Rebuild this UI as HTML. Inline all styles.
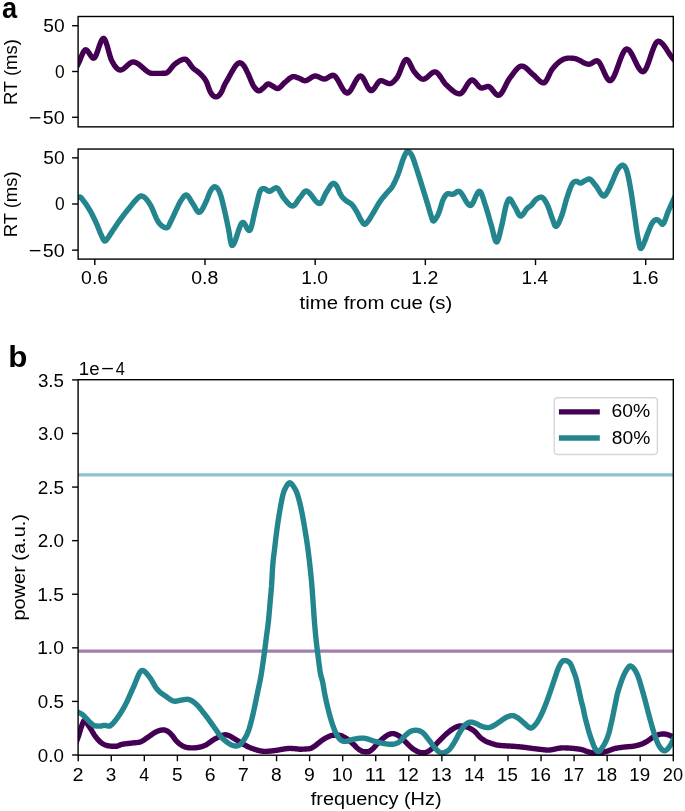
<!DOCTYPE html><html><head><meta charset="utf-8"><title>figure</title>
<style>html,body{margin:0;padding:0;background:#fff;}svg{display:block;}text{font-family:"Liberation Sans",sans-serif;fill:#000;}svg{will-change:transform;filter:blur(0.3px);}</style></head><body>
<svg width="685" height="811" viewBox="0 0 685 811">
<rect width="685" height="811" fill="#fff"/>
<defs>
<clipPath id="ca1"><rect x="78.10" y="16.50" width="595.20" height="110.35"/></clipPath>
<clipPath id="ca2"><rect x="78.10" y="149.05" width="595.20" height="110.05"/></clipPath>
<clipPath id="cb"><rect x="78.10" y="379.70" width="595.20" height="375.50"/></clipPath>
</defs>
<g fill="none" stroke-linecap="round" stroke-linejoin="round">
<path clip-path="url(#ca1)" d="M74.00,72.00L74.50,71.03L75.00,70.07L75.50,69.10L76.00,68.13L76.50,67.17L77.00,66.20L77.50,65.24L78.00,64.28L78.50,63.31L79.00,62.23L79.50,61.08L80.00,59.87L80.50,58.62L81.00,57.37L81.50,56.14L82.00,54.94L82.50,53.81L83.00,52.78L83.50,51.86L84.00,51.08L84.50,50.46L85.00,50.03L85.50,49.82L86.00,49.84L86.50,50.04L87.00,50.41L87.50,50.91L88.00,51.52L88.50,52.22L89.00,52.97L89.50,53.76L90.00,54.56L90.50,55.33L91.00,56.07L91.50,56.73L92.00,57.31L92.50,57.76L93.00,58.06L93.50,58.20L94.00,58.11L94.50,57.74L95.00,57.12L95.50,56.29L96.00,55.27L96.50,54.10L97.00,52.80L97.50,51.40L98.00,49.94L98.50,48.45L99.00,46.95L99.50,45.48L100.00,44.07L100.50,42.75L101.00,41.55L101.50,40.50L102.00,39.63L102.50,38.97L103.00,38.55L103.50,38.40L104.00,38.58L104.50,39.09L105.00,39.89L105.50,40.95L106.00,42.23L106.50,43.69L107.00,45.30L107.50,47.02L108.00,48.80L108.50,50.62L109.00,52.44L109.50,54.22L110.00,55.91L110.50,57.50L111.00,58.93L111.50,60.17L112.00,61.19L112.50,62.10L113.00,62.99L113.50,63.83L114.00,64.63L114.50,65.38L115.00,66.09L115.50,66.75L116.00,67.36L116.50,67.91L117.00,68.40L117.50,68.84L118.00,69.21L118.50,69.51L119.00,69.74L119.50,69.90L120.00,69.99L120.50,69.99L121.00,69.93L121.50,69.81L122.00,69.62L122.50,69.38L123.00,69.10L123.50,68.77L124.00,68.40L124.50,68.01L125.00,67.59L125.50,67.15L126.00,66.69L126.50,66.23L127.00,65.77L127.50,65.31L128.00,64.85L128.50,64.41L129.00,63.99L129.50,63.60L130.00,63.23L130.50,62.90L131.00,62.62L131.50,62.38L132.00,62.19L132.50,62.07L133.00,62.01L133.50,62.01L134.00,62.06L134.50,62.15L135.00,62.28L135.50,62.45L136.00,62.66L136.50,62.89L137.00,63.16L137.50,63.46L138.00,63.78L138.50,64.13L139.00,64.49L139.50,64.88L140.00,65.28L140.50,65.69L141.00,66.12L141.50,66.55L142.00,66.99L142.50,67.43L143.00,67.88L143.50,68.32L144.00,68.76L144.50,69.20L145.00,69.63L145.50,70.04L146.00,70.44L146.50,70.83L147.00,71.20L147.50,71.55L148.00,71.88L148.50,72.18L149.00,72.45L149.50,72.70L150.00,72.91L150.50,73.09L151.00,73.23L151.50,73.33L152.00,73.39L152.50,73.40L153.00,73.40L153.50,73.40L154.00,73.40L154.50,73.40L155.00,73.40L155.50,73.40L156.00,73.40L156.50,73.39L157.00,73.39L157.50,73.39L158.00,73.38L158.50,73.38L159.00,73.37L159.50,73.37L160.00,73.36L160.50,73.35L161.00,73.34L161.50,73.33L162.00,73.32L162.50,73.31L163.00,73.29L163.50,73.28L164.00,73.26L164.50,73.24L165.00,73.22L165.50,73.20L166.00,73.12L166.50,72.95L167.00,72.68L167.50,72.33L168.00,71.92L168.50,71.44L169.00,70.91L169.50,70.33L170.00,69.73L170.50,69.10L171.00,68.46L171.50,67.81L172.00,67.17L172.50,66.55L173.00,65.95L173.50,65.38L174.00,64.87L174.50,64.40L175.00,64.00L175.50,63.63L176.00,63.27L176.50,62.91L177.00,62.56L177.50,62.21L178.00,61.88L178.50,61.55L179.00,61.24L179.50,60.95L180.00,60.67L180.50,60.41L181.00,60.17L181.50,59.95L182.00,59.75L182.50,59.59L183.00,59.45L183.50,59.34L184.00,59.26L184.50,59.21L185.00,59.20L185.50,59.30L186.00,59.52L186.50,59.85L187.00,60.28L187.50,60.79L188.00,61.38L188.50,62.02L189.00,62.70L189.50,63.41L190.00,64.13L190.50,64.86L191.00,65.57L191.50,66.25L192.00,66.89L192.50,67.48L193.00,68.00L193.50,68.46L194.00,68.89L194.50,69.30L195.00,69.69L195.50,70.06L196.00,70.42L196.50,70.78L197.00,71.13L197.50,71.49L198.00,71.86L198.50,72.25L199.00,72.65L199.50,73.08L200.00,73.54L200.50,74.04L201.00,74.57L201.50,75.14L202.00,75.69L202.50,76.23L203.00,76.77L203.50,77.34L204.00,77.94L204.50,78.59L205.00,79.31L205.50,80.11L206.00,81.00L206.50,82.00L207.00,83.17L207.50,84.50L208.00,85.93L208.50,87.38L209.00,88.79L209.50,90.08L210.00,91.20L210.50,92.16L211.00,93.02L211.50,93.80L212.00,94.49L212.50,95.09L213.00,95.60L213.50,96.01L214.00,96.33L214.50,96.56L215.00,96.70L215.50,96.78L216.00,96.80L216.50,96.76L217.00,96.65L217.50,96.47L218.00,96.21L218.50,95.86L219.00,95.41L219.50,94.87L220.00,94.24L220.50,93.53L221.00,92.73L221.50,91.87L222.00,90.91L222.50,89.80L223.00,88.59L223.50,87.35L224.00,86.14L224.50,85.01L225.00,84.00L225.50,83.07L226.00,82.19L226.50,81.34L227.00,80.51L227.50,79.67L228.00,78.80L228.50,77.90L229.00,76.99L229.50,76.07L230.00,75.15L230.50,74.23L231.00,73.32L231.50,72.43L232.00,71.55L232.50,70.70L233.00,69.87L233.50,69.04L234.00,68.20L234.50,67.39L235.00,66.62L235.50,65.92L236.00,65.30L236.50,64.75L237.00,64.25L237.50,63.80L238.00,63.42L238.50,63.12L239.00,62.91L239.50,62.81L240.00,62.82L240.50,62.93L241.00,63.12L241.50,63.41L242.00,63.78L242.50,64.22L243.00,64.73L243.50,65.30L244.00,65.96L244.50,66.73L245.00,67.59L245.50,68.53L246.00,69.51L246.50,70.53L247.00,71.56L247.50,72.59L248.00,73.60L248.50,74.66L249.00,75.79L249.50,76.98L250.00,78.19L250.50,79.42L251.00,80.63L251.50,81.82L252.00,82.96L252.50,84.03L253.00,85.01L253.50,85.89L254.00,86.65L254.50,87.36L255.00,88.03L255.50,88.65L256.00,89.21L256.50,89.69L257.00,90.11L257.50,90.45L258.00,90.69L258.50,90.85L259.00,90.90L259.50,90.83L260.00,90.63L260.50,90.33L261.00,89.96L261.50,89.54L262.00,89.11L262.50,88.69L263.00,88.30L263.50,87.90L264.00,87.42L264.50,86.91L265.00,86.37L265.50,85.83L266.00,85.32L266.50,84.86L267.00,84.48L267.50,84.19L268.00,84.03L268.50,84.01L269.00,84.10L269.50,84.28L270.00,84.52L270.50,84.81L271.00,85.12L271.50,85.43L272.00,85.73L272.50,86.00L273.00,86.26L273.50,86.56L274.00,86.88L274.50,87.21L275.00,87.53L275.50,87.82L276.00,88.08L276.50,88.29L277.00,88.43L277.50,88.50L278.00,88.46L278.50,88.32L279.00,88.08L279.50,87.76L280.00,87.36L280.50,86.91L281.00,86.42L281.50,85.88L282.00,85.33L282.50,84.77L283.00,84.22L283.50,83.68L284.00,83.18L284.50,82.71L285.00,82.30L285.50,81.91L286.00,81.50L286.50,81.07L287.00,80.63L287.50,80.18L288.00,79.74L288.50,79.30L289.00,78.88L289.50,78.48L290.00,78.10L290.50,77.75L291.00,77.43L291.50,77.16L292.00,76.94L292.50,76.76L293.00,76.65L293.50,76.60L294.00,76.62L294.50,76.67L295.00,76.77L295.50,76.90L296.00,77.06L296.50,77.23L297.00,77.42L297.50,77.62L298.00,77.82L298.50,78.01L299.00,78.20L299.50,78.40L300.00,78.64L300.50,78.90L301.00,79.18L301.50,79.46L302.00,79.74L302.50,80.00L303.00,80.24L303.50,80.44L304.00,80.58L304.50,80.68L305.00,80.70L305.50,80.65L306.00,80.55L306.50,80.40L307.00,80.20L307.50,79.97L308.00,79.70L308.50,79.40L309.00,79.08L309.50,78.75L310.00,78.42L310.50,78.08L311.00,77.75L311.50,77.42L312.00,77.12L312.50,76.84L313.00,76.59L313.50,76.37L314.00,76.20L314.50,76.08L315.00,76.01L315.50,76.00L316.00,76.05L316.50,76.14L317.00,76.27L317.50,76.44L318.00,76.64L318.50,76.85L319.00,77.08L319.50,77.33L320.00,77.57L320.50,77.82L321.00,78.06L321.50,78.28L322.00,78.48L322.50,78.66L323.00,78.81L323.50,78.92L324.00,78.98L324.50,79.00L325.00,78.95L325.50,78.83L326.00,78.66L326.50,78.45L327.00,78.19L327.50,77.90L328.00,77.60L328.50,77.28L329.00,76.96L329.50,76.64L330.00,76.34L330.50,76.06L331.00,75.81L331.50,75.60L332.00,75.44L332.50,75.34L333.00,75.30L333.50,75.36L334.00,75.55L334.50,75.85L335.00,76.25L335.50,76.75L336.00,77.34L336.50,78.00L337.00,78.72L337.50,79.51L338.00,80.34L338.50,81.21L339.00,82.11L339.50,83.03L340.00,83.96L340.50,84.90L341.00,85.82L341.50,86.73L342.00,87.62L342.50,88.47L343.00,89.27L343.50,90.02L344.00,90.71L344.50,91.32L345.00,91.86L345.50,92.30L346.00,92.64L346.50,92.88L347.00,92.99L347.50,92.97L348.00,92.82L348.50,92.54L349.00,92.15L349.50,91.65L350.00,91.06L350.50,90.38L351.00,89.63L351.50,88.82L352.00,87.96L352.50,87.05L353.00,86.12L353.50,85.17L354.00,84.21L354.50,83.26L355.00,82.32L355.50,81.40L356.00,80.52L356.50,79.69L357.00,78.91L357.50,78.20L358.00,77.58L358.50,77.04L359.00,76.60L359.50,76.27L360.00,76.07L360.50,76.00L361.00,76.09L361.50,76.36L362.00,76.78L362.50,77.34L363.00,78.02L363.50,78.80L364.00,79.66L364.50,80.60L365.00,81.57L365.50,82.58L366.00,83.61L366.50,84.62L367.00,85.62L367.50,86.57L368.00,87.46L368.50,88.28L369.00,89.00L369.50,89.61L370.00,90.09L370.50,90.42L371.00,90.58L371.50,90.57L372.00,90.41L372.50,90.10L373.00,89.69L373.50,89.17L374.00,88.56L374.50,87.89L375.00,87.17L375.50,86.42L376.00,85.65L376.50,84.88L377.00,84.13L377.50,83.41L378.00,82.74L378.50,82.13L379.00,81.61L379.50,81.20L380.00,80.89L380.50,80.73L381.00,80.70L381.50,80.75L382.00,80.85L382.50,80.98L383.00,81.15L383.50,81.35L384.00,81.57L384.50,81.81L385.00,82.05L385.50,82.30L386.00,82.54L386.50,82.77L387.00,82.99L387.50,83.18L388.00,83.35L388.50,83.48L389.00,83.56L389.50,83.60L390.00,83.58L390.50,83.48L391.00,83.32L391.50,83.10L392.00,82.81L392.50,82.47L393.00,82.09L393.50,81.65L394.00,81.17L394.50,80.66L395.00,80.11L395.50,79.53L396.00,78.93L396.50,78.31L397.00,77.67L397.50,76.91L398.00,76.01L398.50,74.99L399.00,73.87L399.50,72.67L400.00,71.42L400.50,70.12L401.00,68.81L401.50,67.51L402.00,66.23L402.50,65.01L403.00,63.85L403.50,62.78L404.00,61.83L404.50,61.01L405.00,60.35L405.50,59.86L406.00,59.57L406.50,59.50L407.00,59.65L407.50,59.98L408.00,60.48L408.50,61.12L409.00,61.89L409.50,62.75L410.00,63.70L410.50,64.70L411.00,65.73L411.50,66.77L412.00,67.80L412.50,68.80L413.00,69.74L413.50,70.61L414.00,71.37L414.50,72.02L415.00,72.63L415.50,73.23L416.00,73.83L416.50,74.42L417.00,74.99L417.50,75.55L418.00,76.08L418.50,76.59L419.00,77.06L419.50,77.50L420.00,77.90L420.50,78.25L421.00,78.56L421.50,78.81L422.00,79.00L422.50,79.13L423.00,79.19L423.50,79.19L424.00,79.10L424.50,78.95L425.00,78.73L425.50,78.46L426.00,78.15L426.50,77.79L427.00,77.39L427.50,76.97L428.00,76.52L428.50,76.06L429.00,75.60L429.50,75.13L430.00,74.67L430.50,74.22L431.00,73.79L431.50,73.39L432.00,73.02L432.50,72.70L433.00,72.42L433.50,72.19L434.00,72.02L434.50,71.93L435.00,71.90L435.50,71.98L436.00,72.15L436.50,72.41L437.00,72.76L437.50,73.18L438.00,73.67L438.50,74.22L439.00,74.83L439.50,75.47L440.00,76.16L440.50,76.88L441.00,77.62L441.50,78.38L442.00,79.14L442.50,79.90L443.00,80.66L443.50,81.40L444.00,82.12L444.50,82.81L445.00,83.46L445.50,84.06L446.00,84.61L446.50,85.10L447.00,85.56L447.50,86.02L448.00,86.49L448.50,86.95L449.00,87.42L449.50,87.88L450.00,88.34L450.50,88.79L451.00,89.23L451.50,89.66L452.00,90.08L452.50,90.49L453.00,90.88L453.50,91.26L454.00,91.61L454.50,91.95L455.00,92.26L455.50,92.55L456.00,92.81L456.50,93.05L457.00,93.26L457.50,93.43L458.00,93.58L458.50,93.69L459.00,93.76L459.50,93.80L460.00,93.78L460.50,93.64L461.00,93.38L461.50,93.01L462.00,92.55L462.50,92.01L463.00,91.39L463.50,90.71L464.00,89.97L464.50,89.20L465.00,88.39L465.50,87.57L466.00,86.73L466.50,85.90L467.00,85.08L467.50,84.29L468.00,83.53L468.50,82.81L469.00,82.16L469.50,81.57L470.00,81.05L470.50,80.63L471.00,80.31L471.50,80.09L472.00,80.00L472.50,80.04L473.00,80.20L473.50,80.47L474.00,80.83L474.50,81.27L475.00,81.78L475.50,82.34L476.00,82.94L476.50,83.56L477.00,84.19L477.50,84.82L478.00,85.42L478.50,86.00L479.00,86.53L479.50,87.00L480.00,87.40L480.50,87.70L481.00,87.91L481.50,88.00L482.00,87.98L482.50,87.92L483.00,87.82L483.50,87.69L484.00,87.54L484.50,87.37L485.00,87.20L485.50,87.03L486.00,86.87L486.50,86.73L487.00,86.61L487.50,86.54L488.00,86.50L488.50,86.54L489.00,86.69L489.50,86.94L490.00,87.29L490.50,87.71L491.00,88.20L491.50,88.74L492.00,89.33L492.50,89.95L493.00,90.58L493.50,91.22L494.00,91.85L494.50,92.47L495.00,93.06L495.50,93.60L496.00,94.09L496.50,94.51L497.00,94.86L497.50,95.11L498.00,95.26L498.50,95.30L499.00,95.20L499.50,94.98L500.00,94.63L500.50,94.18L501.00,93.62L501.50,92.98L502.00,92.26L502.50,91.46L503.00,90.61L503.50,89.70L504.00,88.76L504.50,87.78L505.00,86.78L505.50,85.77L506.00,84.76L506.50,83.76L507.00,82.78L507.50,81.82L508.00,80.90L508.50,80.03L509.00,79.22L509.50,78.47L510.00,77.80L510.50,77.16L511.00,76.51L511.50,75.84L512.00,75.17L512.50,74.49L513.00,73.80L513.50,73.13L514.00,72.46L514.50,71.80L515.00,71.16L515.50,70.54L516.00,69.94L516.50,69.37L517.00,68.83L517.50,68.33L518.00,67.87L518.50,67.45L519.00,67.08L519.50,66.76L520.00,66.50L520.50,66.31L521.00,66.17L521.50,66.11L522.00,66.11L522.50,66.18L523.00,66.30L523.50,66.48L524.00,66.71L524.50,66.98L525.00,67.29L525.50,67.64L526.00,68.02L526.50,68.43L527.00,68.87L527.50,69.33L528.00,69.80L528.50,70.29L529.00,70.78L529.50,71.29L530.00,71.79L530.50,72.28L531.00,72.77L531.50,73.25L532.00,73.72L532.50,74.16L533.00,74.58L533.50,74.98L534.00,75.39L534.50,75.83L535.00,76.30L535.50,76.80L536.00,77.30L536.50,77.82L537.00,78.35L537.50,78.87L538.00,79.38L538.50,79.88L539.00,80.36L539.50,80.82L540.00,81.25L540.50,81.64L541.00,81.99L541.50,82.29L542.00,82.53L542.50,82.72L543.00,82.85L543.50,82.90L544.00,82.84L544.50,82.60L545.00,82.19L545.50,81.64L546.00,80.97L546.50,80.18L547.00,79.30L547.50,78.35L548.00,77.35L548.50,76.31L549.00,75.25L549.50,74.19L550.00,73.15L550.50,72.15L551.00,71.20L551.50,70.33L552.00,69.55L552.50,68.87L553.00,68.25L553.50,67.64L554.00,67.05L554.50,66.47L555.00,65.91L555.50,65.37L556.00,64.85L556.50,64.34L557.00,63.85L557.50,63.38L558.00,62.93L558.50,62.49L559.00,62.08L559.50,61.69L560.00,61.31L560.50,60.96L561.00,60.62L561.50,60.31L562.00,60.02L562.50,59.75L563.00,59.50L563.50,59.28L564.00,59.08L564.50,58.90L565.00,58.75L565.50,58.61L566.00,58.49L566.50,58.39L567.00,58.30L567.50,58.24L568.00,58.18L568.50,58.14L569.00,58.12L569.50,58.10L570.00,58.10L570.50,58.11L571.00,58.13L571.50,58.15L572.00,58.19L572.50,58.24L573.00,58.30L573.50,58.36L574.00,58.43L574.50,58.51L575.00,58.60L575.50,58.70L576.00,58.84L576.50,59.00L577.00,59.18L577.50,59.38L578.00,59.60L578.50,59.84L579.00,60.09L579.50,60.35L580.00,60.62L580.50,60.90L581.00,61.18L581.50,61.46L582.00,61.74L582.50,62.02L583.00,62.29L583.50,62.55L584.00,62.80L584.50,63.04L585.00,63.27L585.50,63.47L586.00,63.66L586.50,63.82L587.00,63.96L587.50,64.06L588.00,64.14L588.50,64.19L589.00,64.20L589.50,64.15L590.00,64.02L590.50,63.85L591.00,63.62L591.50,63.36L592.00,63.06L592.50,62.75L593.00,62.44L593.50,62.12L594.00,61.82L594.50,61.53L595.00,61.28L595.50,61.08L596.00,60.92L596.50,60.82L597.00,60.80L597.50,60.92L598.00,61.20L598.50,61.62L599.00,62.17L599.50,62.84L600.00,63.62L600.50,64.48L601.00,65.43L601.50,66.44L602.00,67.50L602.50,68.60L603.00,69.73L603.50,70.86L604.00,72.00L604.50,73.12L605.00,74.22L605.50,75.27L606.00,76.27L606.50,77.20L607.00,78.05L607.50,78.80L608.00,79.45L608.50,79.98L609.00,80.37L609.50,80.62L610.00,80.70L610.50,80.62L611.00,80.38L611.50,79.99L612.00,79.46L612.50,78.80L613.00,78.03L613.50,77.15L614.00,76.16L614.50,75.10L615.00,73.95L615.50,72.73L616.00,71.46L616.50,70.14L617.00,68.78L617.50,67.39L618.00,65.98L618.50,64.57L619.00,63.15L619.50,61.75L620.00,60.38L620.50,59.03L621.00,57.73L621.50,56.47L622.00,55.28L622.50,54.17L623.00,53.13L623.50,52.19L624.00,51.35L624.50,50.62L625.00,50.01L625.50,49.54L626.00,49.21L626.50,49.03L627.00,49.01L627.50,49.13L628.00,49.36L628.50,49.71L629.00,50.16L629.50,50.70L630.00,51.33L630.50,52.05L631.00,52.83L631.50,53.67L632.00,54.57L632.50,55.52L633.00,56.51L633.50,57.52L634.00,58.56L634.50,59.61L635.00,60.67L635.50,61.72L636.00,62.77L636.50,63.79L637.00,64.79L637.50,65.75L638.00,66.67L638.50,67.54L639.00,68.35L639.50,69.09L640.00,69.76L640.50,70.34L641.00,70.83L641.50,71.21L642.00,71.50L642.50,71.66L643.00,71.70L643.50,71.56L644.00,71.25L644.50,70.77L645.00,70.14L645.50,69.36L646.00,68.46L646.50,67.44L647.00,66.32L647.50,65.11L648.00,63.82L648.50,62.46L649.00,61.06L649.50,59.61L650.00,58.14L650.50,56.65L651.00,55.16L651.50,53.68L652.00,52.23L652.50,50.81L653.00,49.45L653.50,48.14L654.00,46.91L654.50,45.77L655.00,44.73L655.50,43.81L656.00,43.00L656.50,42.34L657.00,41.83L657.50,41.49L658.00,41.32L658.50,41.31L659.00,41.40L659.50,41.57L660.00,41.80L660.50,42.10L661.00,42.47L661.50,42.89L662.00,43.37L662.50,43.89L663.00,44.46L663.50,45.07L664.00,45.72L664.50,46.40L665.00,47.11L665.50,47.84L666.00,48.59L666.50,49.35L667.00,50.13L667.50,50.91L668.00,51.69L668.50,52.47L669.00,53.24L669.50,54.00L670.00,54.74L670.50,55.46L671.00,56.16L671.50,56.83L672.00,57.46L672.50,58.06L673.00,58.62L673.50,59.17L674.00,59.71L674.50,60.25L675.00,60.79L675.50,61.32L676.00,61.86L676.50,62.39L677.00,62.93L677.50,63.46L678.00,64.00" stroke="#440154" stroke-width="5.40"/>
<path clip-path="url(#ca2)" d="M74.00,199.50L74.50,199.27L75.00,199.01L75.50,198.73L76.00,198.44L76.50,198.16L77.00,197.88L77.50,197.63L78.00,197.41L78.50,197.22L79.00,197.09L79.50,197.01L80.00,197.02L80.50,197.21L81.00,197.59L81.50,198.10L82.00,198.72L82.50,199.41L83.00,200.13L83.50,200.84L84.00,201.50L84.50,202.14L85.00,202.79L85.50,203.47L86.00,204.17L86.50,204.89L87.00,205.64L87.50,206.40L88.00,207.18L88.50,207.99L89.00,208.81L89.50,209.66L90.00,210.52L90.50,211.41L91.00,212.32L91.50,213.25L92.00,214.21L92.50,215.18L93.00,216.18L93.50,217.19L94.00,218.22L94.50,219.27L95.00,220.34L95.50,221.43L96.00,222.53L96.50,223.65L97.00,224.79L97.50,226.00L98.00,227.25L98.50,228.53L99.00,229.81L99.50,231.07L100.00,232.29L100.50,233.44L101.00,234.50L101.50,235.56L102.00,236.68L102.50,237.79L103.00,238.84L103.50,239.74L104.00,240.44L104.50,240.88L105.00,240.99L105.50,240.81L106.00,240.41L106.50,239.84L107.00,239.16L107.50,238.43L108.00,237.69L108.50,237.00L109.00,236.33L109.50,235.61L110.00,234.86L110.50,234.09L111.00,233.30L111.50,232.50L112.00,231.70L112.50,230.92L113.00,230.15L113.50,229.40L114.00,228.66L114.50,227.92L115.00,227.18L115.50,226.44L116.00,225.71L116.50,224.98L117.00,224.25L117.50,223.53L118.00,222.81L118.50,222.10L119.00,221.39L119.50,220.69L120.00,219.99L120.50,219.30L121.00,218.61L121.50,217.93L122.00,217.25L122.50,216.59L123.00,215.93L123.50,215.27L124.00,214.62L124.50,213.97L125.00,213.33L125.50,212.69L126.00,212.06L126.50,211.43L127.00,210.80L127.50,210.18L128.00,209.56L128.50,208.94L129.00,208.32L129.50,207.70L130.00,207.08L130.50,206.45L131.00,205.81L131.50,205.18L132.00,204.54L132.50,203.92L133.00,203.30L133.50,202.70L134.00,202.11L134.50,201.55L135.00,201.01L135.50,200.50L136.00,199.99L136.50,199.46L137.00,198.92L137.50,198.39L138.00,197.88L138.50,197.41L139.00,196.98L139.50,196.61L140.00,196.32L140.50,196.11L141.00,196.01L141.50,196.01L142.00,196.09L142.50,196.24L143.00,196.46L143.50,196.73L144.00,197.05L144.50,197.43L145.00,197.85L145.50,198.31L146.00,198.80L146.50,199.34L147.00,199.93L147.50,200.58L148.00,201.27L148.50,202.00L149.00,202.77L149.50,203.57L150.00,204.39L150.50,205.23L151.00,206.11L151.50,207.08L152.00,208.13L152.50,209.24L153.00,210.40L153.50,211.59L154.00,212.80L154.50,214.01L155.00,215.21L155.50,216.39L156.00,217.53L156.50,218.61L157.00,219.63L157.50,220.56L158.00,221.40L158.50,222.13L159.00,222.82L159.50,223.45L160.00,224.05L160.50,224.59L161.00,225.09L161.50,225.55L162.00,225.96L162.50,226.33L163.00,226.66L163.50,226.94L164.00,227.19L164.50,227.39L165.00,227.55L165.50,227.67L166.00,227.75L166.50,227.79L167.00,227.77L167.50,227.48L168.00,226.91L168.50,226.12L169.00,225.18L169.50,224.14L170.00,223.05L170.50,221.99L171.00,221.00L171.50,220.04L172.00,219.02L172.50,217.96L173.00,216.87L173.50,215.77L174.00,214.66L174.50,213.55L175.00,212.46L175.50,211.41L176.00,210.37L176.50,209.31L177.00,208.24L177.50,207.17L178.00,206.10L178.50,205.06L179.00,204.03L179.50,203.05L180.00,202.11L180.50,201.22L181.00,200.40L181.50,199.66L182.00,198.93L182.50,198.20L183.00,197.50L183.50,196.85L184.00,196.27L184.50,195.77L185.00,195.38L185.50,195.12L186.00,195.00L186.50,195.06L187.00,195.28L187.50,195.66L188.00,196.16L188.50,196.77L189.00,197.48L189.50,198.26L190.00,199.09L190.50,199.95L191.00,200.83L191.50,201.70L192.00,202.54L192.50,203.33L193.00,204.06L193.50,204.77L194.00,205.58L194.50,206.45L195.00,207.35L195.50,208.27L196.00,209.16L196.50,209.99L197.00,210.74L197.50,211.38L198.00,211.87L198.50,212.19L199.00,212.30L199.50,212.21L200.00,211.97L200.50,211.57L201.00,211.05L201.50,210.40L202.00,209.66L202.50,208.82L203.00,207.92L203.50,206.96L204.00,205.95L204.50,204.92L205.00,203.87L205.50,202.83L206.00,201.80L206.50,200.71L207.00,199.51L207.50,198.22L208.00,196.89L208.50,195.55L209.00,194.25L209.50,193.03L210.00,191.91L210.50,190.94L211.00,190.13L211.50,189.38L212.00,188.70L212.50,188.11L213.00,187.61L213.50,187.22L214.00,186.95L214.50,186.81L215.00,186.82L215.50,186.94L216.00,187.16L216.50,187.50L217.00,187.96L217.50,188.54L218.00,189.24L218.50,190.07L219.00,191.02L219.50,192.11L220.00,193.34L220.50,194.72L221.00,196.29L221.50,198.02L222.00,199.88L222.50,201.85L223.00,203.91L223.50,206.03L224.00,208.18L224.50,210.34L225.00,212.51L225.50,214.75L226.00,217.06L226.50,219.42L227.00,221.81L227.50,224.20L228.00,226.58L228.50,228.99L229.00,231.80L229.50,234.90L230.00,238.02L230.50,240.90L231.00,243.28L231.50,244.90L232.00,245.50L232.50,245.36L233.00,244.95L233.50,244.31L234.00,243.45L234.50,242.41L235.00,241.21L235.50,239.88L236.00,238.45L236.50,236.94L237.00,235.38L237.50,233.79L238.00,232.21L238.50,230.65L239.00,229.16L239.50,227.74L240.00,226.44L240.50,225.27L241.00,224.26L241.50,223.45L242.00,222.85L242.50,222.49L243.00,222.41L243.50,222.60L244.00,223.04L244.50,223.68L245.00,224.47L245.50,225.36L246.00,226.31L246.50,227.26L247.00,228.18L247.50,229.02L248.00,229.72L248.50,230.25L249.00,230.55L249.50,230.56L250.00,230.11L250.50,229.20L251.00,227.91L251.50,226.30L252.00,224.41L252.50,222.32L253.00,220.09L253.50,217.77L254.00,215.42L254.50,213.11L255.00,210.89L255.50,208.83L256.00,206.95L256.50,204.95L257.00,202.82L257.50,200.62L258.00,198.44L258.50,196.36L259.00,194.44L259.50,192.76L260.00,191.41L260.50,190.44L261.00,189.76L261.50,189.27L262.00,188.94L262.50,188.74L263.00,188.64L263.50,188.61L264.00,188.60L264.50,188.67L265.00,188.86L265.50,189.14L266.00,189.49L266.50,189.87L267.00,190.26L267.50,190.62L268.00,190.94L268.50,191.17L269.00,191.29L269.50,191.28L270.00,191.18L270.50,190.99L271.00,190.74L271.50,190.44L272.00,190.10L272.50,189.73L273.00,189.37L273.50,189.00L274.00,188.66L274.50,188.36L275.00,188.11L275.50,187.92L276.00,187.82L276.50,187.82L277.00,187.98L277.50,188.32L278.00,188.80L278.50,189.41L279.00,190.12L279.50,190.92L280.00,191.78L280.50,192.68L281.00,193.60L281.50,194.53L282.00,195.43L282.50,196.29L283.00,197.09L283.50,197.80L284.00,198.42L284.50,199.00L285.00,199.60L285.50,200.21L286.00,200.82L286.50,201.42L287.00,202.01L287.50,202.59L288.00,203.14L288.50,203.66L289.00,204.14L289.50,204.58L290.00,204.97L290.50,205.31L291.00,205.59L291.50,205.80L292.00,205.94L292.50,206.00L293.00,205.95L293.50,205.77L294.00,205.46L294.50,205.05L295.00,204.54L295.50,203.95L296.00,203.30L296.50,202.60L297.00,201.86L297.50,201.10L298.00,200.34L298.50,199.59L299.00,198.87L299.50,198.18L300.00,197.55L300.50,196.97L301.00,196.34L301.50,195.66L302.00,194.94L302.50,194.22L303.00,193.51L303.50,192.85L304.00,192.25L304.50,191.74L305.00,191.34L305.50,191.09L306.00,191.00L306.50,191.05L307.00,191.19L307.50,191.42L308.00,191.73L308.50,192.11L309.00,192.56L309.50,193.06L310.00,193.61L310.50,194.20L311.00,194.83L311.50,195.48L312.00,196.15L312.50,196.84L313.00,197.53L313.50,198.21L314.00,198.89L314.50,199.54L315.00,200.18L315.50,200.78L316.00,201.34L316.50,201.85L317.00,202.30L317.50,202.70L318.00,203.02L318.50,203.27L319.00,203.43L319.50,203.50L320.00,203.42L320.50,203.11L321.00,202.60L321.50,201.92L322.00,201.09L322.50,200.14L323.00,199.11L323.50,198.03L324.00,196.92L324.50,195.81L325.00,194.73L325.50,193.72L326.00,192.80L326.50,192.00L327.00,191.25L327.50,190.45L328.00,189.62L328.50,188.79L329.00,187.96L329.50,187.15L330.00,186.38L330.50,185.65L331.00,185.00L331.50,184.43L332.00,183.96L332.50,183.60L333.00,183.38L333.50,183.30L334.00,183.38L334.50,183.60L335.00,183.96L335.50,184.44L336.00,185.03L336.50,185.72L337.00,186.50L337.50,187.44L338.00,188.58L338.50,189.82L339.00,191.09L339.50,192.31L340.00,193.40L340.50,194.33L341.00,195.17L341.50,195.92L342.00,196.59L342.50,197.21L343.00,197.77L343.50,198.29L344.00,198.78L344.50,199.24L345.00,199.69L345.50,200.14L346.00,200.60L346.50,201.03L347.00,201.39L347.50,201.70L348.00,201.97L348.50,202.23L349.00,202.48L349.50,202.74L350.00,203.03L350.50,203.35L351.00,203.73L351.50,204.19L352.00,204.72L352.50,205.31L353.00,205.95L353.50,206.62L354.00,207.34L354.50,208.09L355.00,208.87L355.50,209.68L356.00,210.51L356.50,211.37L357.00,212.25L357.50,213.14L358.00,214.06L358.50,215.06L359.00,216.11L359.50,217.16L360.00,218.19L360.50,219.15L361.00,220.00L361.50,220.80L362.00,221.59L362.50,222.35L363.00,223.02L363.50,223.58L364.00,223.98L364.50,224.18L365.00,224.16L365.50,223.94L366.00,223.57L366.50,223.06L367.00,222.47L367.50,221.82L368.00,221.15L368.50,220.50L369.00,219.84L369.50,219.11L370.00,218.34L370.50,217.53L371.00,216.70L371.50,215.85L372.00,215.00L372.50,214.16L373.00,213.34L373.50,212.51L374.00,211.65L374.50,210.79L375.00,209.91L375.50,209.03L376.00,208.14L376.50,207.26L377.00,206.38L377.50,205.51L378.00,204.66L378.50,203.83L379.00,203.02L379.50,202.24L380.00,201.50L380.50,200.79L381.00,200.10L381.50,199.45L382.00,198.81L382.50,198.18L383.00,197.57L383.50,196.96L384.00,196.36L384.50,195.76L385.00,195.16L385.50,194.55L386.00,193.93L386.50,193.35L387.00,192.80L387.50,192.26L388.00,191.74L388.50,191.22L389.00,190.70L389.50,190.16L390.00,189.60L390.50,189.01L391.00,188.39L391.50,187.71L392.00,186.98L392.50,186.19L393.00,185.32L393.50,184.40L394.00,183.45L394.50,182.45L395.00,181.42L395.50,180.35L396.00,179.24L396.50,178.09L397.00,176.90L397.50,175.68L398.00,174.42L398.50,173.13L399.00,171.78L399.50,170.31L400.00,168.76L400.50,167.14L401.00,165.51L401.50,163.89L402.00,162.33L402.50,160.84L403.00,159.48L403.50,158.27L404.00,157.08L404.50,155.90L405.00,154.76L405.50,153.72L406.00,152.82L406.50,152.12L407.00,151.66L407.50,151.50L408.00,151.55L408.50,151.70L409.00,151.96L409.50,152.32L410.00,152.79L410.50,153.36L411.00,154.04L411.50,154.83L412.00,155.75L412.50,156.85L413.00,158.09L413.50,159.45L414.00,160.89L414.50,162.40L415.00,163.94L415.50,165.49L416.00,167.01L416.50,168.49L417.00,169.99L417.50,171.52L418.00,173.07L418.50,174.65L419.00,176.25L419.50,177.86L420.00,179.47L420.50,181.10L421.00,182.72L421.50,184.34L422.00,185.96L422.50,187.56L423.00,189.16L423.50,190.77L424.00,192.37L424.50,193.98L425.00,195.59L425.50,197.21L426.00,198.83L426.50,200.46L427.00,202.10L427.50,203.74L428.00,205.40L428.50,207.11L429.00,208.87L429.50,210.64L430.00,212.37L430.50,214.01L431.00,215.50L431.50,217.03L432.00,218.61L432.50,219.98L433.00,220.84L433.50,220.98L434.00,220.72L434.50,220.24L435.00,219.62L435.50,218.92L436.00,218.22L436.50,217.45L437.00,216.61L437.50,215.68L438.00,214.68L438.50,213.60L439.00,212.36L439.50,210.92L440.00,209.34L440.50,207.67L441.00,205.96L441.50,204.28L442.00,202.68L442.50,201.22L443.00,199.94L443.50,198.88L444.00,197.89L444.50,196.97L445.00,196.15L445.50,195.42L446.00,194.81L446.50,194.32L447.00,193.96L447.50,193.75L448.00,193.70L448.50,193.73L449.00,193.78L449.50,193.86L450.00,193.95L450.50,194.05L451.00,194.14L451.50,194.22L452.00,194.27L452.50,194.30L453.00,194.26L453.50,194.11L454.00,193.87L454.50,193.57L455.00,193.21L455.50,192.84L456.00,192.46L456.50,192.10L457.00,191.78L457.50,191.53L458.00,191.36L458.50,191.30L459.00,191.37L459.50,191.58L460.00,191.92L460.50,192.37L461.00,192.92L461.50,193.55L462.00,194.26L462.50,195.03L463.00,195.86L463.50,196.71L464.00,197.60L464.50,198.49L465.00,199.38L465.50,200.26L466.00,201.11L466.50,201.92L467.00,202.68L467.50,203.38L468.00,204.00L468.50,204.53L469.00,204.96L469.50,205.27L470.00,205.45L470.50,205.49L471.00,205.32L471.50,204.93L472.00,204.34L472.50,203.58L473.00,202.68L473.50,201.68L474.00,200.59L474.50,199.45L475.00,198.28L475.50,197.12L476.00,195.99L476.50,194.91L477.00,193.93L477.50,193.06L478.00,192.33L478.50,191.78L479.00,191.42L479.50,191.30L480.00,191.47L480.50,191.97L481.00,192.75L481.50,193.77L482.00,194.99L482.50,196.37L483.00,197.87L483.50,199.44L484.00,201.05L484.50,202.65L485.00,204.21L485.50,205.69L486.00,207.19L486.50,208.77L487.00,210.42L487.50,212.11L488.00,213.84L488.50,215.60L489.00,217.37L489.50,219.14L490.00,220.90L490.50,222.63L491.00,224.31L491.50,225.97L492.00,227.81L492.50,229.82L493.00,231.91L493.50,233.99L494.00,236.00L494.50,237.85L495.00,239.45L495.50,240.73L496.00,241.60L496.50,241.99L497.00,241.83L497.50,241.17L498.00,240.09L498.50,238.65L499.00,236.93L499.50,234.99L500.00,232.91L500.50,230.75L501.00,228.59L501.50,226.49L502.00,224.50L502.50,222.32L503.00,219.94L503.50,217.44L504.00,214.90L504.50,212.39L505.00,209.99L505.50,207.77L506.00,205.82L506.50,204.20L507.00,202.81L507.50,201.52L508.00,200.42L508.50,199.57L509.00,199.04L509.50,198.91L510.00,199.08L510.50,199.47L511.00,200.05L511.50,200.77L512.00,201.61L512.50,202.52L513.00,203.47L513.50,204.42L514.00,205.34L514.50,206.19L515.00,206.98L515.50,207.88L516.00,208.88L516.50,209.93L517.00,211.00L517.50,212.06L518.00,213.06L518.50,213.98L519.00,214.76L519.50,215.39L520.00,215.81L520.50,215.99L521.00,215.94L521.50,215.72L522.00,215.36L522.50,214.88L523.00,214.29L523.50,213.63L524.00,212.91L524.50,212.15L525.00,211.38L525.50,210.62L526.00,209.89L526.50,209.21L527.00,208.60L527.50,208.09L528.00,207.67L528.50,207.31L529.00,206.98L529.50,206.65L530.00,206.31L530.50,205.94L531.00,205.50L531.50,204.98L532.00,204.39L532.50,203.74L533.00,203.07L533.50,202.38L534.00,201.71L534.50,201.08L535.00,200.50L535.50,200.00L536.00,199.56L536.50,199.16L537.00,198.78L537.50,198.44L538.00,198.13L538.50,197.87L539.00,197.64L539.50,197.46L540.00,197.33L540.50,197.24L541.00,197.20L541.50,197.24L542.00,197.40L542.50,197.67L543.00,198.05L543.50,198.53L544.00,199.10L544.50,199.76L545.00,200.50L545.50,201.31L546.00,202.20L546.50,203.14L547.00,204.14L547.50,205.19L548.00,206.31L548.50,207.58L549.00,208.95L549.50,210.40L550.00,211.90L550.50,213.41L551.00,214.90L551.50,216.34L552.00,217.69L552.50,218.99L553.00,220.44L553.50,221.96L554.00,223.42L554.50,224.71L555.00,225.71L555.50,226.30L556.00,226.38L556.50,226.17L557.00,225.75L557.50,225.13L558.00,224.35L558.50,223.43L559.00,222.38L559.50,221.24L560.00,220.03L560.50,218.76L561.00,217.46L561.50,216.16L562.00,214.81L562.50,213.31L563.00,211.69L563.50,209.96L564.00,208.17L564.50,206.33L565.00,204.48L565.50,202.64L566.00,200.84L566.50,199.12L567.00,197.50L567.50,196.00L568.00,194.57L568.50,193.12L569.00,191.68L569.50,190.27L570.00,188.91L570.50,187.62L571.00,186.41L571.50,185.30L572.00,184.33L572.50,183.49L573.00,182.82L573.50,182.32L574.00,181.96L574.50,181.71L575.00,181.55L575.50,181.46L576.00,181.41L576.50,181.40L577.00,181.42L577.50,181.57L578.00,181.84L578.50,182.18L579.00,182.53L579.50,182.83L580.00,183.04L580.50,183.10L581.00,183.01L581.50,182.83L582.00,182.57L582.50,182.25L583.00,181.90L583.50,181.54L584.00,181.19L584.50,180.87L585.00,180.60L585.50,180.36L586.00,180.10L586.50,179.84L587.00,179.59L587.50,179.36L588.00,179.18L588.50,179.06L589.00,179.00L589.50,179.04L590.00,179.21L590.50,179.50L591.00,179.88L591.50,180.35L592.00,180.89L592.50,181.48L593.00,182.11L593.50,182.76L594.00,183.42L594.50,184.07L595.00,184.70L595.50,185.29L596.00,185.87L596.50,186.54L597.00,187.28L597.50,188.07L598.00,188.90L598.50,189.74L599.00,190.60L599.50,191.44L600.00,192.26L600.50,193.04L601.00,193.76L601.50,194.40L602.00,194.96L602.50,195.42L603.00,195.75L603.50,195.95L604.00,195.99L604.50,195.83L605.00,195.45L605.50,194.89L606.00,194.20L606.50,193.41L607.00,192.55L607.50,191.67L608.00,190.80L608.50,189.90L609.00,188.91L609.50,187.85L610.00,186.75L610.50,185.61L611.00,184.47L611.50,183.33L612.00,182.22L612.50,181.11L613.00,179.96L613.50,178.77L614.00,177.56L614.50,176.34L615.00,175.14L615.50,173.97L616.00,172.85L616.50,171.79L617.00,170.81L617.50,169.92L618.00,169.15L618.50,168.45L619.00,167.79L619.50,167.18L620.00,166.64L620.50,166.17L621.00,165.78L621.50,165.48L622.00,165.29L622.50,165.20L623.00,165.24L623.50,165.42L624.00,165.74L624.50,166.23L625.00,166.90L625.50,167.75L626.00,168.81L626.50,170.08L627.00,171.58L627.50,173.33L628.00,175.35L628.50,177.61L629.00,180.08L629.50,182.72L630.00,185.49L630.50,188.35L631.00,191.29L631.50,194.40L632.00,197.68L632.50,201.08L633.00,204.55L633.50,208.03L634.00,211.47L634.50,214.86L635.00,218.36L635.50,221.96L636.00,225.55L636.50,229.04L637.00,232.34L637.50,235.36L638.00,238.06L638.50,240.79L639.00,243.43L639.50,245.74L640.00,247.48L640.50,248.41L641.00,248.43L641.50,248.00L642.00,247.28L642.50,246.34L643.00,245.26L643.50,244.12L644.00,243.00L644.50,241.85L645.00,240.56L645.50,239.20L646.00,237.81L646.50,236.43L647.00,235.10L647.50,233.85L648.00,232.59L648.50,231.32L649.00,230.05L649.50,228.80L650.00,227.59L650.50,226.43L651.00,225.33L651.50,224.32L652.00,223.40L652.50,222.58L653.00,221.90L653.50,221.32L654.00,220.81L654.50,220.39L655.00,220.05L655.50,219.80L656.00,219.65L656.50,219.60L657.00,219.67L657.50,219.86L658.00,220.15L658.50,220.50L659.00,220.89L659.50,221.30L660.00,221.81L660.50,222.47L661.00,223.16L661.50,223.77L662.00,224.18L662.50,224.29L663.00,224.04L663.50,223.48L664.00,222.64L664.50,221.58L665.00,220.34L665.50,218.97L666.00,217.53L666.50,216.05L667.00,214.59L667.50,213.19L668.00,211.90L668.50,210.75L669.00,209.64L669.50,208.51L670.00,207.39L670.50,206.26L671.00,205.14L671.50,204.02L672.00,202.91L672.50,201.80L673.00,200.70L673.50,199.61L674.00,198.53L674.50,197.45L675.00,196.39L675.50,195.32L676.00,194.26L676.50,193.19L677.00,192.13L677.50,191.07L678.00,190.00" stroke="#23858e" stroke-width="5.40"/>
<line clip-path="url(#cb)" x1="78.10" x2="673.30" y1="474.8" y2="474.8" stroke="#23858e" stroke-opacity="0.5" stroke-width="3.3"/>
<line clip-path="url(#cb)" x1="78.10" x2="673.30" y1="651.2" y2="651.2" stroke="#440154" stroke-opacity="0.5" stroke-width="3.3"/>
<path clip-path="url(#cb)" d="M72.00,752.00L72.50,750.79L73.00,749.60L73.50,748.44L74.00,747.30L74.50,746.15L75.00,745.01L75.50,743.84L76.00,742.66L76.50,741.44L77.00,740.19L77.50,738.88L78.00,737.52L78.50,736.09L79.00,734.57L79.50,732.93L80.00,731.22L80.50,729.53L81.00,727.93L81.50,726.50L82.00,725.11L82.50,723.68L83.00,722.39L83.50,721.39L84.00,720.85L84.50,720.83L85.00,721.03L85.50,721.39L86.00,721.87L86.50,722.47L87.00,723.15L87.50,723.89L88.00,724.66L88.50,725.45L89.00,726.22L89.50,726.96L90.00,727.68L90.50,728.45L91.00,729.27L91.50,730.12L92.00,730.99L92.50,731.86L93.00,732.73L93.50,733.58L94.00,734.40L94.50,735.18L95.00,735.90L95.50,736.58L96.00,737.24L96.50,737.88L97.00,738.50L97.50,739.09L98.00,739.66L98.50,740.20L99.00,740.72L99.50,741.21L100.00,741.67L100.50,742.11L101.00,742.52L101.50,742.90L102.00,743.26L102.50,743.59L103.00,743.89L103.50,744.17L104.00,744.43L104.50,744.67L105.00,744.88L105.50,745.08L106.00,745.25L106.50,745.40L107.00,745.53L107.50,745.66L108.00,745.76L108.50,745.86L109.00,745.94L109.50,746.01L110.00,746.07L110.50,746.13L111.00,746.17L111.50,746.20L112.00,746.23L112.50,746.25L113.00,746.27L113.50,746.28L114.00,746.29L114.50,746.30L115.00,746.30L115.50,746.30L116.00,746.30L116.50,746.27L117.00,746.17L117.50,746.03L118.00,745.85L118.50,745.65L119.00,745.43L119.50,745.20L120.00,744.99L120.50,744.79L121.00,744.63L121.50,744.49L122.00,744.37L122.50,744.26L123.00,744.16L123.50,744.07L124.00,743.98L124.50,743.90L125.00,743.83L125.50,743.77L126.00,743.70L126.50,743.65L127.00,743.59L127.50,743.54L128.00,743.49L128.50,743.44L129.00,743.39L129.50,743.34L130.00,743.28L130.50,743.23L131.00,743.16L131.50,743.10L132.00,743.03L132.50,742.96L133.00,742.90L133.50,742.84L134.00,742.80L134.50,742.76L135.00,742.73L135.50,742.69L136.00,742.65L136.50,742.61L137.00,742.57L137.50,742.51L138.00,742.44L138.50,742.36L139.00,742.26L139.50,742.14L140.00,742.00L140.50,741.83L141.00,741.64L141.50,741.42L142.00,741.18L142.50,740.90L143.00,740.61L143.50,740.30L144.00,739.97L144.50,739.63L145.00,739.28L145.50,738.92L146.00,738.56L146.50,738.20L147.00,737.84L147.50,737.48L148.00,737.13L148.50,736.80L149.00,736.47L149.50,736.14L150.00,735.79L150.50,735.45L151.00,735.09L151.50,734.74L152.00,734.38L152.50,734.03L153.00,733.69L153.50,733.35L154.00,733.02L154.50,732.71L155.00,732.41L155.50,732.14L156.00,731.88L156.50,731.64L157.00,731.43L157.50,731.22L158.00,731.03L158.50,730.85L159.00,730.67L159.50,730.52L160.00,730.37L160.50,730.25L161.00,730.14L161.50,730.05L162.00,729.98L162.50,729.93L163.00,729.90L163.50,729.90L164.00,729.94L164.50,730.01L165.00,730.12L165.50,730.26L166.00,730.44L166.50,730.65L167.00,730.90L167.50,731.18L168.00,731.50L168.50,731.85L169.00,732.25L169.50,732.68L170.00,733.15L170.50,733.65L171.00,734.17L171.50,734.71L172.00,735.27L172.50,735.85L173.00,736.49L173.50,737.17L174.00,737.87L174.50,738.57L175.00,739.25L175.50,739.90L176.00,740.50L176.50,741.05L177.00,741.57L177.50,742.07L178.00,742.54L178.50,742.98L179.00,743.40L179.50,743.80L180.00,744.18L180.50,744.54L181.00,744.88L181.50,745.21L182.00,745.52L182.50,745.82L183.00,746.09L183.50,746.34L184.00,746.56L184.50,746.76L185.00,746.95L185.50,747.11L186.00,747.25L186.50,747.37L187.00,747.48L187.50,747.57L188.00,747.65L188.50,747.72L189.00,747.77L189.50,747.81L190.00,747.84L190.50,747.87L191.00,747.88L191.50,747.89L192.00,747.90L192.50,747.90L193.00,747.90L193.50,747.89L194.00,747.87L194.50,747.84L195.00,747.81L195.50,747.77L196.00,747.73L196.50,747.67L197.00,747.61L197.50,747.53L198.00,747.45L198.50,747.37L199.00,747.27L199.50,747.16L200.00,747.05L200.50,746.92L201.00,746.79L201.50,746.65L202.00,746.49L202.50,746.33L203.00,746.16L203.50,745.97L204.00,745.78L204.50,745.57L205.00,745.35L205.50,745.10L206.00,744.83L206.50,744.54L207.00,744.24L207.50,743.92L208.00,743.59L208.50,743.26L209.00,742.91L209.50,742.56L210.00,742.21L210.50,741.85L211.00,741.49L211.50,741.14L212.00,740.79L212.50,740.44L213.00,740.11L213.50,739.78L214.00,739.46L214.50,739.16L215.00,738.87L215.50,738.60L216.00,738.35L216.50,738.10L217.00,737.85L217.50,737.59L218.00,737.33L218.50,737.07L219.00,736.81L219.50,736.56L220.00,736.32L220.50,736.09L221.00,735.87L221.50,735.66L222.00,735.47L222.50,735.30L223.00,735.15L223.50,735.03L224.00,734.93L224.50,734.85L225.00,734.81L225.50,734.80L226.00,734.83L226.50,734.89L227.00,734.99L227.50,735.12L228.00,735.27L228.50,735.46L229.00,735.67L229.50,735.90L230.00,736.15L230.50,736.41L231.00,736.69L231.50,736.98L232.00,737.28L232.50,737.59L233.00,737.90L233.50,738.22L234.00,738.53L234.50,738.84L235.00,739.15L235.50,739.45L236.00,739.73L236.50,740.01L237.00,740.29L237.50,740.59L238.00,740.89L238.50,741.20L239.00,741.51L239.50,741.83L240.00,742.15L240.50,742.47L241.00,742.80L241.50,743.12L242.00,743.44L242.50,743.75L243.00,744.06L243.50,744.36L244.00,744.65L244.50,744.93L245.00,745.20L245.50,745.46L246.00,745.72L246.50,745.97L247.00,746.22L247.50,746.46L248.00,746.70L248.50,746.94L249.00,747.16L249.50,747.38L250.00,747.60L250.50,747.81L251.00,748.01L251.50,748.21L252.00,748.40L252.50,748.59L253.00,748.77L253.50,748.94L254.00,749.11L254.50,749.28L255.00,749.44L255.50,749.60L256.00,749.75L256.50,749.90L257.00,750.05L257.50,750.19L258.00,750.33L258.50,750.46L259.00,750.58L259.50,750.70L260.00,750.80L260.50,750.90L261.00,750.99L261.50,751.08L262.00,751.16L262.50,751.24L263.00,751.30L263.50,751.35L264.00,751.38L264.50,751.40L265.00,751.40L265.50,751.39L266.00,751.38L266.50,751.35L267.00,751.33L267.50,751.30L268.00,751.26L268.50,751.22L269.00,751.18L269.50,751.14L270.00,751.10L270.50,751.06L271.00,751.01L271.50,750.96L272.00,750.90L272.50,750.84L273.00,750.78L273.50,750.72L274.00,750.66L274.50,750.59L275.00,750.52L275.50,750.45L276.00,750.37L276.50,750.30L277.00,750.22L277.50,750.15L278.00,750.07L278.50,749.99L279.00,749.90L279.50,749.81L280.00,749.71L280.50,749.61L281.00,749.52L281.50,749.42L282.00,749.33L282.50,749.24L283.00,749.15L283.50,749.07L284.00,749.00L284.50,748.93L285.00,748.86L285.50,748.78L286.00,748.71L286.50,748.64L287.00,748.58L287.50,748.53L288.00,748.48L288.50,748.44L289.00,748.41L289.50,748.40L290.00,748.40L290.50,748.41L291.00,748.43L291.50,748.45L292.00,748.48L292.50,748.51L293.00,748.54L293.50,748.58L294.00,748.62L294.50,748.66L295.00,748.70L295.50,748.74L296.00,748.80L296.50,748.86L297.00,748.92L297.50,748.99L298.00,749.05L298.50,749.10L299.00,749.15L299.50,749.18L300.00,749.20L300.50,749.20L301.00,749.20L301.50,749.19L302.00,749.18L302.50,749.17L303.00,749.15L303.50,749.13L304.00,749.11L304.50,749.08L305.00,749.04L305.50,749.00L306.00,748.96L306.50,748.93L307.00,748.91L307.50,748.88L308.00,748.85L308.50,748.80L309.00,748.73L309.50,748.64L310.00,748.52L310.50,748.37L311.00,748.18L311.50,747.96L312.00,747.71L312.50,747.44L313.00,747.15L313.50,746.85L314.00,746.53L314.50,746.20L315.00,745.86L315.50,745.49L316.00,745.10L316.50,744.70L317.00,744.29L317.50,743.88L318.00,743.47L318.50,743.08L319.00,742.69L319.50,742.29L320.00,741.89L320.50,741.49L321.00,741.10L321.50,740.72L322.00,740.35L322.50,740.00L323.00,739.67L323.50,739.35L324.00,739.05L324.50,738.76L325.00,738.48L325.50,738.21L326.00,737.95L326.50,737.70L327.00,737.45L327.50,737.19L328.00,736.93L328.50,736.68L329.00,736.44L329.50,736.21L330.00,735.99L330.50,735.80L331.00,735.63L331.50,735.49L332.00,735.39L332.50,735.32L333.00,735.30L333.50,735.30L334.00,735.30L334.50,735.30L335.00,735.30L335.50,735.30L336.00,735.30L336.50,735.30L337.00,735.30L337.50,735.30L338.00,735.30L338.50,735.30L339.00,735.30L339.50,735.32L340.00,735.40L340.50,735.51L341.00,735.66L341.50,735.84L342.00,736.05L342.50,736.29L343.00,736.54L343.50,736.80L344.00,737.08L344.50,737.36L345.00,737.64L345.50,737.93L346.00,738.24L346.50,738.56L347.00,738.90L347.50,739.26L348.00,739.63L348.50,740.02L349.00,740.41L349.50,740.82L350.00,741.24L350.50,741.66L351.00,742.09L351.50,742.53L352.00,742.97L352.50,743.41L353.00,743.85L353.50,744.29L354.00,744.75L354.50,745.24L355.00,745.75L355.50,746.26L356.00,746.78L356.50,747.29L357.00,747.79L357.50,748.27L358.00,748.72L358.50,749.13L359.00,749.50L359.50,749.84L360.00,750.16L360.50,750.46L361.00,750.74L361.50,750.99L362.00,751.20L362.50,751.38L363.00,751.50L363.50,751.59L364.00,751.66L364.50,751.71L365.00,751.75L365.50,751.77L366.00,751.79L366.50,751.80L367.00,751.80L367.50,751.80L368.00,751.76L368.50,751.64L369.00,751.46L369.50,751.23L370.00,750.94L370.50,750.62L371.00,750.26L371.50,749.89L372.00,749.50L372.50,749.08L373.00,748.60L373.50,748.09L374.00,747.54L374.50,746.97L375.00,746.39L375.50,745.82L376.00,745.25L376.50,744.71L377.00,744.19L377.50,743.67L378.00,743.15L378.50,742.63L379.00,742.12L379.50,741.61L380.00,741.11L380.50,740.62L381.00,740.14L381.50,739.69L382.00,739.25L382.50,738.84L383.00,738.43L383.50,738.03L384.00,737.63L384.50,737.24L385.00,736.87L385.50,736.50L386.00,736.15L386.50,735.81L387.00,735.49L387.50,735.19L388.00,734.91L388.50,734.66L389.00,734.42L389.50,734.21L390.00,734.03L390.50,733.88L391.00,733.76L391.50,733.67L392.00,733.62L392.50,733.60L393.00,733.62L393.50,733.66L394.00,733.74L394.50,733.85L395.00,733.99L395.50,734.15L396.00,734.34L396.50,734.56L397.00,734.79L397.50,735.06L398.00,735.34L398.50,735.65L399.00,735.97L399.50,736.32L400.00,736.68L400.50,737.06L401.00,737.46L401.50,737.87L402.00,738.31L402.50,738.78L403.00,739.28L403.50,739.78L404.00,740.30L404.50,740.80L405.00,741.30L405.50,741.80L406.00,742.30L406.50,742.82L407.00,743.34L407.50,743.87L408.00,744.39L408.50,744.91L409.00,745.42L409.50,745.92L410.00,746.40L410.50,746.86L411.00,747.30L411.50,747.72L412.00,748.11L412.50,748.49L413.00,748.86L413.50,749.21L414.00,749.54L414.50,749.87L415.00,750.17L415.50,750.46L416.00,750.74L416.50,750.99L417.00,751.23L417.50,751.46L418.00,751.66L418.50,751.85L419.00,752.02L419.50,752.18L420.00,752.32L420.50,752.44L421.00,752.54L421.50,752.63L422.00,752.70L422.50,752.75L423.00,752.79L423.50,752.80L424.00,752.79L424.50,752.73L425.00,752.64L425.50,752.51L426.00,752.34L426.50,752.15L427.00,751.92L427.50,751.67L428.00,751.40L428.50,751.11L429.00,750.80L429.50,750.47L430.00,750.14L430.50,749.79L431.00,749.40L431.50,748.98L432.00,748.52L432.50,748.04L433.00,747.54L433.50,747.03L434.00,746.49L434.50,745.95L435.00,745.40L435.50,744.85L436.00,744.30L436.50,743.76L437.00,743.22L437.50,742.70L438.00,742.20L438.50,741.69L439.00,741.18L439.50,740.67L440.00,740.15L440.50,739.63L441.00,739.11L441.50,738.60L442.00,738.09L442.50,737.58L443.00,737.07L443.50,736.58L444.00,736.09L444.50,735.62L445.00,735.15L445.50,734.70L446.00,734.26L446.50,733.81L447.00,733.38L447.50,732.94L448.00,732.51L448.50,732.09L449.00,731.68L449.50,731.27L450.00,730.88L450.50,730.50L451.00,730.13L451.50,729.78L452.00,729.44L452.50,729.12L453.00,728.82L453.50,728.53L454.00,728.25L454.50,727.97L455.00,727.70L455.50,727.45L456.00,727.20L456.50,726.97L457.00,726.76L457.50,726.56L458.00,726.39L458.50,726.24L459.00,726.11L459.50,726.01L460.00,725.94L460.50,725.91L461.00,725.90L461.50,725.91L462.00,725.94L462.50,725.98L463.00,726.04L463.50,726.11L464.00,726.19L464.50,726.29L465.00,726.40L465.50,726.53L466.00,726.67L466.50,726.83L467.00,727.00L467.50,727.18L468.00,727.39L468.50,727.60L469.00,727.83L469.50,728.06L470.00,728.31L470.50,728.57L471.00,728.85L471.50,729.14L472.00,729.45L472.50,729.77L473.00,730.12L473.50,730.48L474.00,730.87L474.50,731.28L475.00,731.71L475.50,732.18L476.00,732.70L476.50,733.25L477.00,733.84L477.50,734.43L478.00,735.03L478.50,735.62L479.00,736.18L479.50,736.72L480.00,737.20L480.50,737.64L481.00,738.07L481.50,738.46L482.00,738.84L482.50,739.20L483.00,739.54L483.50,739.87L484.00,740.18L484.50,740.47L485.00,740.76L485.50,741.03L486.00,741.30L486.50,741.55L487.00,741.79L487.50,742.00L488.00,742.21L488.50,742.40L489.00,742.58L489.50,742.75L490.00,742.92L490.50,743.09L491.00,743.27L491.50,743.44L492.00,743.61L492.50,743.77L493.00,743.94L493.50,744.09L494.00,744.25L494.50,744.39L495.00,744.53L495.50,744.67L496.00,744.79L496.50,744.91L497.00,745.02L497.50,745.12L498.00,745.20L498.50,745.28L499.00,745.35L499.50,745.40L500.00,745.45L500.50,745.50L501.00,745.54L501.50,745.57L502.00,745.61L502.50,745.64L503.00,745.67L503.50,745.70L504.00,745.73L504.50,745.76L505.00,745.80L505.50,745.84L506.00,745.87L506.50,745.91L507.00,745.94L507.50,745.97L508.00,746.00L508.50,746.02L509.00,746.05L509.50,746.07L510.00,746.10L510.50,746.13L511.00,746.15L511.50,746.18L512.00,746.21L512.50,746.24L513.00,746.28L513.50,746.31L514.00,746.35L514.50,746.39L515.00,746.43L515.50,746.47L516.00,746.51L516.50,746.55L517.00,746.59L517.50,746.63L518.00,746.67L518.50,746.71L519.00,746.76L519.50,746.80L520.00,746.85L520.50,746.90L521.00,746.95L521.50,747.00L522.00,747.05L522.50,747.10L523.00,747.15L523.50,747.21L524.00,747.27L524.50,747.32L525.00,747.38L525.50,747.45L526.00,747.51L526.50,747.58L527.00,747.65L527.50,747.72L528.00,747.80L528.50,747.87L529.00,747.94L529.50,748.01L530.00,748.09L530.50,748.16L531.00,748.23L531.50,748.30L532.00,748.37L532.50,748.44L533.00,748.50L533.50,748.56L534.00,748.63L534.50,748.69L535.00,748.75L535.50,748.81L536.00,748.87L536.50,748.93L537.00,748.99L537.50,749.05L538.00,749.10L538.50,749.16L539.00,749.22L539.50,749.27L540.00,749.32L540.50,749.38L541.00,749.43L541.50,749.49L542.00,749.55L542.50,749.62L543.00,749.68L543.50,749.74L544.00,749.80L544.50,749.86L545.00,749.92L545.50,749.97L546.00,750.01L546.50,750.05L547.00,750.08L547.50,750.09L548.00,750.10L548.50,750.09L549.00,750.07L549.50,750.04L550.00,749.99L550.50,749.93L551.00,749.86L551.50,749.78L552.00,749.70L552.50,749.60L553.00,749.50L553.50,749.40L554.00,749.29L554.50,749.18L555.00,749.07L555.50,748.95L556.00,748.84L556.50,748.73L557.00,748.62L557.50,748.52L558.00,748.42L558.50,748.32L559.00,748.24L559.50,748.16L560.00,748.08L560.50,748.02L561.00,747.97L561.50,747.94L562.00,747.91L562.50,747.90L563.00,747.90L563.50,747.90L564.00,747.91L564.50,747.91L565.00,747.92L565.50,747.94L566.00,747.95L566.50,747.96L567.00,747.98L567.50,748.00L568.00,748.02L568.50,748.05L569.00,748.08L569.50,748.11L570.00,748.14L570.50,748.17L571.00,748.21L571.50,748.25L572.00,748.29L572.50,748.34L573.00,748.38L573.50,748.43L574.00,748.49L574.50,748.54L575.00,748.60L575.50,748.66L576.00,748.72L576.50,748.77L577.00,748.83L577.50,748.89L578.00,748.95L578.50,749.01L579.00,749.08L579.50,749.16L580.00,749.24L580.50,749.34L581.00,749.44L581.50,749.55L582.00,749.67L582.50,749.81L583.00,749.97L583.50,750.14L584.00,750.33L584.50,750.52L585.00,750.72L585.50,750.92L586.00,751.12L586.50,751.31L587.00,751.49L587.50,751.65L588.00,751.80L588.50,751.94L589.00,752.07L589.50,752.20L590.00,752.32L590.50,752.44L591.00,752.55L591.50,752.65L592.00,752.74L592.50,752.83L593.00,752.90L593.50,752.97L594.00,753.02L594.50,753.06L595.00,753.09L595.50,753.10L596.00,753.10L596.50,753.08L597.00,753.05L597.50,753.00L598.00,752.95L598.50,752.89L599.00,752.82L599.50,752.74L600.00,752.66L600.50,752.58L601.00,752.50L601.50,752.42L602.00,752.33L602.50,752.24L603.00,752.15L603.50,752.05L604.00,751.95L604.50,751.84L605.00,751.73L605.50,751.61L606.00,751.49L606.50,751.36L607.00,751.23L607.50,751.08L608.00,750.93L608.50,750.76L609.00,750.58L609.50,750.39L610.00,750.20L610.50,750.01L611.00,749.81L611.50,749.62L612.00,749.43L612.50,749.24L613.00,749.06L613.50,748.90L614.00,748.74L614.50,748.60L615.00,748.47L615.50,748.36L616.00,748.25L616.50,748.15L617.00,748.05L617.50,747.97L618.00,747.89L618.50,747.81L619.00,747.74L619.50,747.67L620.00,747.60L620.50,747.54L621.00,747.47L621.50,747.41L622.00,747.34L622.50,747.27L623.00,747.20L623.50,747.13L624.00,747.07L624.50,747.01L625.00,746.96L625.50,746.91L626.00,746.86L626.50,746.82L627.00,746.78L627.50,746.74L628.00,746.70L628.50,746.66L629.00,746.62L629.50,746.58L630.00,746.54L630.50,746.50L631.00,746.45L631.50,746.40L632.00,746.34L632.50,746.29L633.00,746.22L633.50,746.15L634.00,746.07L634.50,745.99L635.00,745.89L635.50,745.79L636.00,745.68L636.50,745.56L637.00,745.45L637.50,745.33L638.00,745.21L638.50,745.08L639.00,744.94L639.50,744.80L640.00,744.64L640.50,744.48L641.00,744.30L641.50,744.11L642.00,743.91L642.50,743.70L643.00,743.47L643.50,743.24L644.00,743.00L644.50,742.75L645.00,742.50L645.50,742.24L646.00,741.97L646.50,741.69L647.00,741.39L647.50,741.07L648.00,740.73L648.50,740.38L649.00,740.02L649.50,739.66L650.00,739.28L650.50,738.91L651.00,738.55L651.50,738.19L652.00,737.83L652.50,737.50L653.00,737.18L653.50,736.88L654.00,736.60L654.50,736.34L655.00,736.08L655.50,735.83L656.00,735.60L656.50,735.37L657.00,735.16L657.50,734.97L658.00,734.80L658.50,734.65L659.00,734.51L659.50,734.39L660.00,734.29L660.50,734.20L661.00,734.13L661.50,734.08L662.00,734.04L662.50,734.01L663.00,734.00L663.50,734.00L664.00,734.02L664.50,734.06L665.00,734.11L665.50,734.18L666.00,734.26L666.50,734.36L667.00,734.47L667.50,734.60L668.00,734.75L668.50,734.92L669.00,735.11L669.50,735.32L670.00,735.54L670.50,735.77L671.00,736.01L671.50,736.25L672.00,736.50L672.50,736.75L673.00,737.02L673.50,737.29L674.00,737.58L674.50,737.87L675.00,738.17L675.50,738.48L676.00,738.79L676.50,739.10L677.00,739.40L677.50,739.70L678.00,740.00" stroke="#440154" stroke-width="5.40"/>
<path clip-path="url(#cb)" d="M72.00,709.00L72.50,709.26L73.00,709.52L73.50,709.77L74.00,710.03L74.50,710.28L75.00,710.54L75.50,710.79L76.00,711.05L76.50,711.31L77.00,711.57L77.50,711.84L78.00,712.11L78.50,712.39L79.00,712.66L79.50,712.93L80.00,713.18L80.50,713.44L81.00,713.71L81.50,714.00L82.00,714.31L82.50,714.67L83.00,715.07L83.50,715.52L84.00,716.01L84.50,716.53L85.00,717.07L85.50,717.61L86.00,718.16L86.50,718.69L87.00,719.20L87.50,719.72L88.00,720.25L88.50,720.78L89.00,721.30L89.50,721.81L90.00,722.30L90.50,722.76L91.00,723.18L91.50,723.60L92.00,724.03L92.50,724.43L93.00,724.81L93.50,725.15L94.00,725.44L94.50,725.66L95.00,725.80L95.50,725.89L96.00,725.95L96.50,726.01L97.00,726.04L97.50,726.07L98.00,726.09L98.50,726.10L99.00,726.10L99.50,726.10L100.00,726.09L100.50,726.05L101.00,725.97L101.50,725.88L102.00,725.77L102.50,725.66L103.00,725.56L103.50,725.48L104.00,725.42L104.50,725.40L105.00,725.42L105.50,725.48L106.00,725.57L106.50,725.67L107.00,725.78L107.50,725.89L108.00,725.99L108.50,726.06L109.00,726.10L109.50,726.07L110.00,725.90L110.50,725.60L111.00,725.22L111.50,724.76L112.00,724.28L112.50,723.79L113.00,723.31L113.50,722.77L114.00,722.20L114.50,721.60L115.00,720.98L115.50,720.34L116.00,719.70L116.50,719.05L117.00,718.38L117.50,717.70L118.00,717.00L118.50,716.29L119.00,715.56L119.50,714.81L120.00,714.05L120.50,713.27L121.00,712.48L121.50,711.67L122.00,710.84L122.50,709.99L123.00,709.13L123.50,708.25L124.00,707.35L124.50,706.44L125.00,705.51L125.50,704.56L126.00,703.60L126.50,702.60L127.00,701.57L127.50,700.51L128.00,699.42L128.50,698.31L129.00,697.18L129.50,696.03L130.00,694.88L130.50,693.73L131.00,692.58L131.50,691.45L132.00,690.32L132.50,689.22L133.00,688.14L133.50,687.09L134.00,685.99L134.50,684.83L135.00,683.60L135.50,682.34L136.00,681.07L136.50,679.79L137.00,678.52L137.50,677.28L138.00,676.10L138.50,674.98L139.00,673.94L139.50,673.00L140.00,672.18L140.50,671.50L141.00,670.96L141.50,670.60L142.00,670.42L142.50,670.42L143.00,670.53L143.50,670.72L144.00,671.00L144.50,671.35L145.00,671.77L145.50,672.24L146.00,672.76L146.50,673.32L147.00,673.92L147.50,674.54L148.00,675.17L148.50,675.82L149.00,676.46L149.50,677.10L150.00,677.76L150.50,678.49L151.00,679.27L151.50,680.08L152.00,680.93L152.50,681.80L153.00,682.69L153.50,683.58L154.00,684.46L154.50,685.32L155.00,686.16L155.50,686.96L156.00,687.71L156.50,688.41L157.00,689.05L157.50,689.64L158.00,690.20L158.50,690.72L159.00,691.22L159.50,691.68L160.00,692.12L160.50,692.54L161.00,692.94L161.50,693.32L162.00,693.69L162.50,694.05L163.00,694.40L163.50,694.74L164.00,695.08L164.50,695.42L165.00,695.76L165.50,696.10L166.00,696.45L166.50,696.81L167.00,697.18L167.50,697.55L168.00,697.92L168.50,698.28L169.00,698.64L169.50,698.98L170.00,699.31L170.50,699.63L171.00,699.93L171.50,700.20L172.00,700.45L172.50,700.66L173.00,700.85L173.50,701.00L174.00,701.11L174.50,701.18L175.00,701.20L175.50,701.19L176.00,701.14L176.50,701.08L177.00,701.00L177.50,700.90L178.00,700.79L178.50,700.68L179.00,700.56L179.50,700.45L180.00,700.34L180.50,700.25L181.00,700.17L181.50,700.08L182.00,700.00L182.50,699.91L183.00,699.81L183.50,699.72L184.00,699.64L184.50,699.56L185.00,699.48L185.50,699.42L186.00,699.37L186.50,699.33L187.00,699.31L187.50,699.30L188.00,699.33L188.50,699.40L189.00,699.52L189.50,699.67L190.00,699.85L190.50,700.07L191.00,700.31L191.50,700.59L192.00,700.89L192.50,701.21L193.00,701.55L193.50,701.91L194.00,702.29L194.50,702.67L195.00,703.07L195.50,703.48L196.00,703.92L196.50,704.38L197.00,704.87L197.50,705.39L198.00,705.93L198.50,706.49L199.00,707.06L199.50,707.66L200.00,708.27L200.50,708.89L201.00,709.52L201.50,710.15L202.00,710.79L202.50,711.43L203.00,712.08L203.50,712.72L204.00,713.35L204.50,713.98L205.00,714.61L205.50,715.26L206.00,715.91L206.50,716.58L207.00,717.24L207.50,717.92L208.00,718.60L208.50,719.28L209.00,719.97L209.50,720.67L210.00,721.36L210.50,722.06L211.00,722.77L211.50,723.47L212.00,724.17L212.50,724.88L213.00,725.59L213.50,726.29L214.00,727.00L214.50,727.70L215.00,728.40L215.50,729.11L216.00,729.84L216.50,730.58L217.00,731.33L217.50,732.08L218.00,732.82L218.50,733.55L219.00,734.27L219.50,734.96L220.00,735.62L220.50,736.24L221.00,736.83L221.50,737.38L222.00,737.91L222.50,738.40L223.00,738.88L223.50,739.33L224.00,739.77L224.50,740.19L225.00,740.59L225.50,740.99L226.00,741.37L226.50,741.75L227.00,742.12L227.50,742.49L228.00,742.85L228.50,743.20L229.00,743.54L229.50,743.86L230.00,744.16L230.50,744.44L231.00,744.70L231.50,744.93L232.00,745.14L232.50,745.32L233.00,745.49L233.50,745.64L234.00,745.76L234.50,745.86L235.00,745.94L235.50,745.98L236.00,746.00L236.50,745.98L237.00,745.91L237.50,745.80L238.00,745.64L238.50,745.43L239.00,745.17L239.50,744.86L240.00,744.50L240.50,744.09L241.00,743.63L241.50,743.12L242.00,742.56L242.50,741.96L243.00,741.30L243.50,740.58L244.00,739.82L244.50,739.01L245.00,738.18L245.50,737.32L246.00,736.42L246.50,735.46L247.00,734.43L247.50,733.31L248.00,732.09L248.50,730.76L249.00,729.30L249.50,727.71L250.00,726.00L250.50,724.19L251.00,722.30L251.50,720.33L252.00,718.31L252.50,716.25L253.00,714.16L253.50,711.99L254.00,709.75L254.50,707.44L255.00,705.08L255.50,702.67L256.00,700.24L256.50,697.79L257.00,695.34L257.50,692.89L258.00,690.48L258.50,688.14L259.00,685.81L259.50,683.46L260.00,681.01L260.50,678.43L261.00,675.67L261.50,672.67L262.00,669.49L262.50,666.15L263.00,662.68L263.50,659.12L264.00,655.50L264.50,651.79L265.00,647.98L265.50,644.09L266.00,640.15L266.50,636.22L267.00,632.47L267.50,628.77L268.00,624.86L268.50,620.46L269.00,615.32L269.50,609.54L270.00,603.53L270.50,597.78L271.00,592.52L271.50,586.45L272.00,578.07L272.50,568.96L273.00,562.25L273.50,557.47L274.00,553.62L274.50,549.76L275.00,545.38L275.50,541.06L276.00,536.85L276.50,532.82L277.00,529.00L277.50,525.40L278.00,521.98L278.50,518.73L279.00,515.61L279.50,512.59L280.00,509.65L280.50,506.78L281.00,504.01L281.50,501.38L282.00,498.91L282.50,496.64L283.00,494.60L283.50,492.82L284.00,491.32L284.50,490.05L285.00,488.94L285.50,487.94L286.00,487.00L286.50,486.09L287.00,485.25L287.50,484.50L288.00,483.86L288.50,483.35L289.00,482.99L289.50,482.82L290.00,482.83L290.50,483.03L291.00,483.37L291.50,483.84L292.00,484.42L292.50,485.07L293.00,485.77L293.50,486.50L294.00,487.25L294.50,488.02L295.00,488.86L295.50,489.78L296.00,490.79L296.50,491.93L297.00,493.22L297.50,494.67L298.00,496.24L298.50,497.94L299.00,499.77L299.50,501.71L300.00,503.76L300.50,505.92L301.00,508.18L301.50,510.54L302.00,512.99L302.50,515.56L303.00,518.25L303.50,521.03L304.00,523.91L304.50,526.87L305.00,529.89L305.50,532.95L306.00,536.03L306.50,539.18L307.00,542.47L307.50,545.95L308.00,549.66L308.50,553.57L309.00,557.65L309.50,561.93L310.00,566.46L310.50,571.16L311.00,575.98L311.50,581.22L312.00,587.16L312.50,593.94L313.00,601.13L313.50,608.38L314.00,615.74L314.50,622.39L315.00,628.38L315.50,633.88L316.00,638.99L316.50,643.56L317.00,647.69L317.50,651.60L318.00,655.50L318.50,659.53L319.00,663.56L319.50,667.43L320.00,670.93L320.50,673.90L321.00,676.09L321.50,677.73L322.00,679.32L322.50,681.36L323.00,683.95L323.50,686.83L324.00,689.82L324.50,692.70L325.00,695.31L325.50,697.74L326.00,700.07L326.50,702.30L327.00,704.45L327.50,706.56L328.00,708.62L328.50,710.63L329.00,712.58L329.50,714.47L330.00,716.29L330.50,718.06L331.00,719.76L331.50,721.40L332.00,722.98L332.50,724.51L333.00,725.97L333.50,727.37L334.00,728.71L334.50,729.98L335.00,731.18L335.50,732.30L336.00,733.35L336.50,734.33L337.00,735.23L337.50,736.07L338.00,736.84L338.50,737.55L339.00,738.20L339.50,738.80L340.00,739.33L340.50,739.79L341.00,740.18L341.50,740.50L342.00,740.77L342.50,740.98L343.00,741.14L343.50,741.26L344.00,741.34L344.50,741.38L345.00,741.40L345.50,741.39L346.00,741.35L346.50,741.28L347.00,741.19L347.50,741.08L348.00,740.95L348.50,740.81L349.00,740.65L349.50,740.49L350.00,740.32L350.50,740.15L351.00,739.98L351.50,739.82L352.00,739.66L352.50,739.51L353.00,739.38L353.50,739.26L354.00,739.16L354.50,739.07L355.00,738.97L355.50,738.88L356.00,738.79L356.50,738.71L357.00,738.62L357.50,738.54L358.00,738.47L358.50,738.40L359.00,738.34L359.50,738.28L360.00,738.23L360.50,738.19L361.00,738.15L361.50,738.12L362.00,738.11L362.50,738.10L363.00,738.11L363.50,738.13L364.00,738.18L364.50,738.25L365.00,738.33L365.50,738.43L366.00,738.54L366.50,738.66L367.00,738.80L367.50,738.95L368.00,739.10L368.50,739.26L369.00,739.43L369.50,739.60L370.00,739.78L370.50,739.95L371.00,740.13L371.50,740.31L372.00,740.48L372.50,740.65L373.00,740.82L373.50,740.98L374.00,741.13L374.50,741.27L375.00,741.40L375.50,741.53L376.00,741.65L376.50,741.78L377.00,741.92L377.50,742.05L378.00,742.18L378.50,742.31L379.00,742.44L379.50,742.57L380.00,742.69L380.50,742.81L381.00,742.93L381.50,743.04L382.00,743.15L382.50,743.26L383.00,743.36L383.50,743.45L384.00,743.53L384.50,743.62L385.00,743.70L385.50,743.78L386.00,743.85L386.50,743.93L387.00,744.00L387.50,744.06L388.00,744.12L388.50,744.17L389.00,744.21L389.50,744.25L390.00,744.27L390.50,744.29L391.00,744.30L391.50,744.30L392.00,744.28L392.50,744.25L393.00,744.20L393.50,744.14L394.00,744.06L394.50,743.96L395.00,743.84L395.50,743.70L396.00,743.54L396.50,743.35L397.00,743.14L397.50,742.90L398.00,742.63L398.50,742.33L399.00,742.00L399.50,741.63L400.00,741.24L400.50,740.78L401.00,740.28L401.50,739.73L402.00,739.16L402.50,738.58L403.00,737.98L403.50,737.40L404.00,736.83L404.50,736.30L405.00,735.80L405.50,735.33L406.00,734.86L406.50,734.40L407.00,733.95L407.50,733.51L408.00,733.09L408.50,732.69L409.00,732.32L409.50,731.98L410.00,731.67L410.50,731.40L411.00,731.17L411.50,730.97L412.00,730.80L412.50,730.66L413.00,730.55L413.50,730.47L414.00,730.40L414.50,730.35L415.00,730.32L415.50,730.30L416.00,730.30L416.50,730.31L417.00,730.34L417.50,730.40L418.00,730.48L418.50,730.58L419.00,730.71L419.50,730.87L420.00,731.06L420.50,731.28L421.00,731.54L421.50,731.82L422.00,732.14L422.50,732.50L423.00,732.90L423.50,733.36L424.00,733.86L424.50,734.40L425.00,734.97L425.50,735.57L426.00,736.20L426.50,736.84L427.00,737.49L427.50,738.14L428.00,738.80L428.50,739.44L429.00,740.08L429.50,740.71L430.00,741.37L430.50,742.05L431.00,742.75L431.50,743.45L432.00,744.16L432.50,744.87L433.00,745.57L433.50,746.25L434.00,746.91L434.50,747.54L435.00,748.14L435.50,748.69L436.00,749.21L436.50,749.71L437.00,750.19L437.50,750.65L438.00,751.08L438.50,751.46L439.00,751.80L439.50,752.10L440.00,752.37L440.50,752.61L441.00,752.80L441.50,752.93L442.00,752.99L442.50,752.99L443.00,752.92L443.50,752.80L444.00,752.63L444.50,752.44L445.00,752.23L445.50,752.00L446.00,751.77L446.50,751.53L447.00,751.27L447.50,750.97L448.00,750.64L448.50,750.26L449.00,749.82L449.50,749.31L450.00,748.74L450.50,748.13L451.00,747.46L451.50,746.76L452.00,746.03L452.50,745.27L453.00,744.48L453.50,743.69L454.00,742.88L454.50,742.07L455.00,741.22L455.50,740.32L456.00,739.38L456.50,738.42L457.00,737.45L457.50,736.48L458.00,735.52L458.50,734.58L459.00,733.68L459.50,732.83L460.00,732.02L460.50,731.22L461.00,730.43L461.50,729.65L462.00,728.90L462.50,728.17L463.00,727.47L463.50,726.81L464.00,726.19L464.50,725.62L465.00,725.09L465.50,724.62L466.00,724.19L466.50,723.79L467.00,723.43L467.50,723.10L468.00,722.82L468.50,722.59L469.00,722.39L469.50,722.25L470.00,722.15L470.50,722.10L471.00,722.11L471.50,722.15L472.00,722.22L472.50,722.32L473.00,722.45L473.50,722.59L474.00,722.76L474.50,722.94L475.00,723.13L475.50,723.32L476.00,723.52L476.50,723.72L477.00,723.95L477.50,724.21L478.00,724.47L478.50,724.75L479.00,725.02L479.50,725.29L480.00,725.55L480.50,725.79L481.00,726.00L481.50,726.19L482.00,726.37L482.50,726.55L483.00,726.71L483.50,726.86L484.00,727.00L484.50,727.13L485.00,727.25L485.50,727.35L486.00,727.43L486.50,727.50L487.00,727.55L487.50,727.59L488.00,727.60L488.50,727.59L489.00,727.53L489.50,727.43L490.00,727.30L490.50,727.14L491.00,726.95L491.50,726.74L492.00,726.51L492.50,726.26L493.00,726.01L493.50,725.76L494.00,725.50L494.50,725.23L495.00,724.94L495.50,724.63L496.00,724.31L496.50,723.97L497.00,723.62L497.50,723.26L498.00,722.90L498.50,722.54L499.00,722.19L499.50,721.84L500.00,721.50L500.50,721.16L501.00,720.81L501.50,720.45L502.00,720.09L502.50,719.73L503.00,719.37L503.50,719.02L504.00,718.68L504.50,718.35L505.00,718.04L505.50,717.76L506.00,717.50L506.50,717.26L507.00,717.02L507.50,716.80L508.00,716.59L508.50,716.39L509.00,716.20L509.50,716.04L510.00,715.90L510.50,715.78L511.00,715.69L511.50,715.63L512.00,715.60L512.50,715.61L513.00,715.67L513.50,715.77L514.00,715.91L514.50,716.09L515.00,716.30L515.50,716.54L516.00,716.81L516.50,717.09L517.00,717.39L517.50,717.69L518.00,718.00L518.50,718.33L519.00,718.69L519.50,719.08L520.00,719.50L520.50,719.93L521.00,720.37L521.50,720.83L522.00,721.28L522.50,721.73L523.00,722.17L523.50,722.59L524.00,723.00L524.50,723.42L525.00,723.87L525.50,724.34L526.00,724.83L526.50,725.32L527.00,725.80L527.50,726.26L528.00,726.69L528.50,727.08L529.00,727.41L529.50,727.68L530.00,727.87L530.50,727.98L531.00,727.99L531.50,727.89L532.00,727.69L532.50,727.40L533.00,727.02L533.50,726.58L534.00,726.09L534.50,725.55L535.00,724.97L535.50,724.37L536.00,723.75L536.50,723.09L537.00,722.38L537.50,721.63L538.00,720.83L538.50,719.99L539.00,719.12L539.50,718.21L540.00,717.27L540.50,716.30L541.00,715.30L541.50,714.26L542.00,713.19L542.50,712.07L543.00,710.92L543.50,709.74L544.00,708.54L544.50,707.30L545.00,706.05L545.50,704.78L546.00,703.50L546.50,702.20L547.00,700.86L547.50,699.51L548.00,698.13L548.50,696.74L549.00,695.33L549.50,693.90L550.00,692.47L550.50,691.03L551.00,689.57L551.50,688.08L552.00,686.57L552.50,685.06L553.00,683.55L553.50,682.05L554.00,680.57L554.50,679.11L555.00,677.62L555.50,676.11L556.00,674.59L556.50,673.09L557.00,671.63L557.50,670.25L558.00,668.96L558.50,667.80L559.00,666.72L559.50,665.69L560.00,664.71L560.50,663.80L561.00,662.98L561.50,662.25L562.00,661.64L562.50,661.16L563.00,660.82L563.50,660.63L564.00,660.60L564.50,660.60L565.00,660.62L565.50,660.65L566.00,660.72L566.50,660.82L567.00,660.96L567.50,661.15L568.00,661.41L568.50,661.73L569.00,662.14L569.50,662.62L570.00,663.20L570.50,663.90L571.00,664.78L571.50,665.85L572.00,667.06L572.50,668.35L573.00,669.69L573.50,671.03L574.00,672.35L574.50,673.66L575.00,675.02L575.50,676.50L576.00,678.15L576.50,680.01L577.00,682.06L577.50,684.19L578.00,686.32L578.50,688.46L579.00,690.64L579.50,692.85L580.00,695.15L580.50,697.52L581.00,699.83L581.50,701.92L582.00,703.77L582.50,705.58L583.00,707.56L583.50,709.90L584.00,712.46L584.50,714.94L585.00,717.13L585.50,719.13L586.00,721.02L586.50,722.87L587.00,724.76L587.50,726.67L588.00,728.57L588.50,730.41L589.00,732.16L589.50,733.81L590.00,735.36L590.50,736.84L591.00,738.26L591.50,739.64L592.00,741.00L592.50,742.38L593.00,743.76L593.50,745.11L594.00,746.38L594.50,747.52L595.00,748.50L595.50,749.32L596.00,750.02L596.50,750.60L597.00,751.05L597.50,751.37L598.00,751.55L598.50,751.60L599.00,751.46L599.50,751.15L600.00,750.69L600.50,750.12L601.00,749.45L601.50,748.72L602.00,747.95L602.50,747.16L603.00,746.39L603.50,745.61L604.00,744.79L604.50,743.93L605.00,743.02L605.50,742.03L606.00,740.96L606.50,739.80L607.00,738.54L607.50,737.26L608.00,735.90L608.50,734.41L609.00,732.73L609.50,730.81L610.00,728.65L610.50,726.38L611.00,724.17L611.50,722.03L612.00,719.89L612.50,717.66L613.00,715.29L613.50,712.80L614.00,710.30L614.50,707.83L615.00,705.36L615.50,702.89L616.00,700.38L616.50,697.84L617.00,695.44L617.50,693.36L618.00,691.54L618.50,689.92L619.00,688.40L619.50,686.91L620.00,685.38L620.50,683.86L621.00,682.38L621.50,680.95L622.00,679.57L622.50,678.25L623.00,677.00L623.50,675.82L624.00,674.69L624.50,673.63L625.00,672.63L625.50,671.69L626.00,670.81L626.50,670.00L627.00,669.21L627.50,668.43L628.00,667.70L628.50,667.05L629.00,666.53L629.50,666.17L630.00,666.00L630.50,666.03L631.00,666.17L631.50,666.40L632.00,666.72L632.50,667.12L633.00,667.60L633.50,668.14L634.00,668.75L634.50,669.43L635.00,670.19L635.50,671.02L636.00,671.93L636.50,672.91L637.00,673.96L637.50,675.09L638.00,676.34L638.50,677.70L639.00,679.15L639.50,680.68L640.00,682.29L640.50,683.95L641.00,685.66L641.50,687.40L642.00,689.17L642.50,690.95L643.00,692.73L643.50,694.50L644.00,696.26L644.50,698.07L645.00,699.93L645.50,701.84L646.00,703.77L646.50,705.72L647.00,707.68L647.50,709.65L648.00,711.60L648.50,713.53L649.00,715.43L649.50,717.29L650.00,719.09L650.50,720.86L651.00,722.63L651.50,724.40L652.00,726.17L652.50,727.93L653.00,729.66L653.50,731.36L654.00,733.01L654.50,734.61L655.00,736.14L655.50,737.60L656.00,738.97L656.50,740.26L657.00,741.45L657.50,742.59L658.00,743.67L658.50,744.69L659.00,745.63L659.50,746.50L660.00,747.30L660.50,748.00L661.00,748.63L661.50,749.19L662.00,749.67L662.50,750.08L663.00,750.40L663.50,750.63L664.00,750.77L664.50,750.80L665.00,750.72L665.50,750.54L666.00,750.26L666.50,749.91L667.00,749.49L667.50,749.02L668.00,748.50L668.50,747.93L669.00,747.30L669.50,746.62L670.00,745.87L670.50,745.07L671.00,744.23L671.50,743.30L672.00,742.31L672.50,741.27L673.00,740.23L673.50,739.20L674.00,738.19L674.50,737.17L675.00,736.15L675.50,735.13L676.00,734.10L676.50,733.08L677.00,732.05L677.50,731.02L678.00,730.00" stroke="#23858e" stroke-width="5.40"/>
</g>
<g fill="none" stroke="#000" stroke-width="1.40" stroke-linecap="butt">
<rect x="78.10" y="16.50" width="595.20" height="110.35" stroke-linejoin="miter"/>
<rect x="78.10" y="149.05" width="595.20" height="110.05" stroke-linejoin="miter"/>
<rect x="78.10" y="379.70" width="595.20" height="375.50" stroke-linejoin="miter"/>
<line x1="72.10" x2="78.10" y1="25.70" y2="25.70"/>
<line x1="72.10" x2="78.10" y1="157.85" y2="157.85"/>
<line x1="72.10" x2="78.10" y1="71.50" y2="71.50"/>
<line x1="72.10" x2="78.10" y1="204.00" y2="204.00"/>
<line x1="72.10" x2="78.10" y1="117.30" y2="117.30"/>
<line x1="72.10" x2="78.10" y1="250.15" y2="250.15"/>
<line x1="94.80" x2="94.80" y1="259.10" y2="265.10"/>
<line x1="204.98" x2="204.98" y1="259.10" y2="265.10"/>
<line x1="315.16" x2="315.16" y1="259.10" y2="265.10"/>
<line x1="425.34" x2="425.34" y1="259.10" y2="265.10"/>
<line x1="535.52" x2="535.52" y1="259.10" y2="265.10"/>
<line x1="645.70" x2="645.70" y1="259.10" y2="265.10"/>
<line x1="72.10" x2="78.10" y1="755.00" y2="755.00"/>
<line x1="72.10" x2="78.10" y1="701.41" y2="701.41"/>
<line x1="72.10" x2="78.10" y1="647.83" y2="647.83"/>
<line x1="72.10" x2="78.10" y1="594.25" y2="594.25"/>
<line x1="72.10" x2="78.10" y1="540.66" y2="540.66"/>
<line x1="72.10" x2="78.10" y1="487.07" y2="487.07"/>
<line x1="72.10" x2="78.10" y1="433.49" y2="433.49"/>
<line x1="72.10" x2="78.10" y1="379.90" y2="379.90"/>
<line x1="78.20" x2="78.20" y1="755.20" y2="761.20"/>
<line x1="111.26" x2="111.26" y1="755.20" y2="761.20"/>
<line x1="144.32" x2="144.32" y1="755.20" y2="761.20"/>
<line x1="177.38" x2="177.38" y1="755.20" y2="761.20"/>
<line x1="210.44" x2="210.44" y1="755.20" y2="761.20"/>
<line x1="243.50" x2="243.50" y1="755.20" y2="761.20"/>
<line x1="276.56" x2="276.56" y1="755.20" y2="761.20"/>
<line x1="309.62" x2="309.62" y1="755.20" y2="761.20"/>
<line x1="342.68" x2="342.68" y1="755.20" y2="761.20"/>
<line x1="375.74" x2="375.74" y1="755.20" y2="761.20"/>
<line x1="408.80" x2="408.80" y1="755.20" y2="761.20"/>
<line x1="441.86" x2="441.86" y1="755.20" y2="761.20"/>
<line x1="474.92" x2="474.92" y1="755.20" y2="761.20"/>
<line x1="507.98" x2="507.98" y1="755.20" y2="761.20"/>
<line x1="541.04" x2="541.04" y1="755.20" y2="761.20"/>
<line x1="574.10" x2="574.10" y1="755.20" y2="761.20"/>
<line x1="607.16" x2="607.16" y1="755.20" y2="761.20"/>
<line x1="640.22" x2="640.22" y1="755.20" y2="761.20"/>
<line x1="673.28" x2="673.28" y1="755.20" y2="761.20"/>
</g>
<rect x="554.2" y="397.7" width="103.2" height="56.8" rx="3.4" ry="3.4" fill="#fff" fill-opacity="0.8" stroke="#cccccc" stroke-opacity="0.8" stroke-width="1.35"/>
<line x1="558.9" x2="599.8" y1="411.9" y2="411.9" stroke="#440154" stroke-width="5.40"/>
<line x1="558.9" x2="599.8" y1="438.0" y2="438.0" stroke="#23858e" stroke-width="5.40"/>
<text x="43.33" y="32.15" font-size="17.60" textLength="21.33" lengthAdjust="spacingAndGlyphs">50</text>
<text x="54.90" y="77.95" font-size="17.60" textLength="9.67" lengthAdjust="spacingAndGlyphs">0</text>
<text x="42.81" y="123.75" font-size="17.60" textLength="21.87" lengthAdjust="spacingAndGlyphs">50</text>
<rect x="29.80" y="117.13" width="10.60" height="1.35" fill="#000"/>
<text x="43.33" y="164.30" font-size="17.60" textLength="21.33" lengthAdjust="spacingAndGlyphs">50</text>
<text x="54.90" y="210.45" font-size="17.60" textLength="9.67" lengthAdjust="spacingAndGlyphs">0</text>
<text x="42.81" y="256.60" font-size="17.60" textLength="21.87" lengthAdjust="spacingAndGlyphs">50</text>
<rect x="29.80" y="249.97" width="10.60" height="1.35" fill="#000"/>
<text x="81.12" y="284.40" font-size="17.60" textLength="27.01" lengthAdjust="spacingAndGlyphs">0.6</text>
<text x="191.30" y="284.40" font-size="17.60" textLength="27.01" lengthAdjust="spacingAndGlyphs">0.8</text>
<text x="301.22" y="284.40" font-size="17.60" textLength="26.77" lengthAdjust="spacingAndGlyphs">1.0</text>
<text x="411.38" y="284.40" font-size="17.60" textLength="27.03" lengthAdjust="spacingAndGlyphs">1.2</text>
<text x="521.59" y="284.40" font-size="17.60" textLength="26.56" lengthAdjust="spacingAndGlyphs">1.4</text>
<text x="631.75" y="284.40" font-size="17.60" textLength="26.88" lengthAdjust="spacingAndGlyphs">1.6</text>
<text x="299.59" y="309.20" font-size="17.60" textLength="152.60" lengthAdjust="spacingAndGlyphs">time from cue (s)</text>
<text x="37.85" y="761.60" font-size="17.60" textLength="26.06" lengthAdjust="spacingAndGlyphs">0.0</text>
<text x="37.85" y="708.01" font-size="17.60" textLength="26.11" lengthAdjust="spacingAndGlyphs">0.5</text>
<text x="37.16" y="654.43" font-size="17.60" textLength="26.77" lengthAdjust="spacingAndGlyphs">1.0</text>
<text x="37.15" y="600.85" font-size="17.60" textLength="26.82" lengthAdjust="spacingAndGlyphs">1.5</text>
<text x="37.66" y="547.26" font-size="17.60" textLength="26.26" lengthAdjust="spacingAndGlyphs">2.0</text>
<text x="37.65" y="493.68" font-size="17.60" textLength="26.31" lengthAdjust="spacingAndGlyphs">2.5</text>
<text x="37.90" y="440.09" font-size="17.60" textLength="26.01" lengthAdjust="spacingAndGlyphs">3.0</text>
<text x="37.90" y="386.50" font-size="17.60" textLength="26.06" lengthAdjust="spacingAndGlyphs">3.5</text>
<text x="72.51" y="780.60" font-size="17.60" textLength="11.00" lengthAdjust="spacingAndGlyphs">2</text>
<text x="105.85" y="780.60" font-size="17.60" textLength="10.54" lengthAdjust="spacingAndGlyphs">3</text>
<text x="139.22" y="780.60" font-size="17.60" textLength="9.91" lengthAdjust="spacingAndGlyphs">4</text>
<text x="171.92" y="780.60" font-size="17.60" textLength="10.54" lengthAdjust="spacingAndGlyphs">5</text>
<text x="204.77" y="780.60" font-size="17.60" textLength="10.82" lengthAdjust="spacingAndGlyphs">6</text>
<text x="237.76" y="780.60" font-size="17.60" textLength="11.06" lengthAdjust="spacingAndGlyphs">7</text>
<text x="271.05" y="780.60" font-size="17.60" textLength="10.65" lengthAdjust="spacingAndGlyphs">8</text>
<text x="304.00" y="780.60" font-size="17.60" textLength="10.82" lengthAdjust="spacingAndGlyphs">9</text>
<text x="331.78" y="780.60" font-size="17.60" textLength="20.74" lengthAdjust="spacingAndGlyphs">10</text>
<text x="364.72" y="780.60" font-size="17.60" textLength="21.10" lengthAdjust="spacingAndGlyphs">11</text>
<text x="397.88" y="780.60" font-size="17.60" textLength="21.00" lengthAdjust="spacingAndGlyphs">12</text>
<text x="430.95" y="780.60" font-size="17.60" textLength="20.85" lengthAdjust="spacingAndGlyphs">13</text>
<text x="464.04" y="780.60" font-size="17.60" textLength="20.54" lengthAdjust="spacingAndGlyphs">14</text>
<text x="497.08" y="780.60" font-size="17.60" textLength="20.79" lengthAdjust="spacingAndGlyphs">15</text>
<text x="530.13" y="780.60" font-size="17.60" textLength="20.85" lengthAdjust="spacingAndGlyphs">16</text>
<text x="563.18" y="780.60" font-size="17.60" textLength="21.00" lengthAdjust="spacingAndGlyphs">17</text>
<text x="596.25" y="780.60" font-size="17.60" textLength="20.85" lengthAdjust="spacingAndGlyphs">18</text>
<text x="629.31" y="780.60" font-size="17.60" textLength="20.90" lengthAdjust="spacingAndGlyphs">19</text>
<text x="662.87" y="780.60" font-size="17.60" textLength="20.23" lengthAdjust="spacingAndGlyphs">20</text>
<text x="310.80" y="804.60" font-size="17.60" textLength="130.75" lengthAdjust="spacingAndGlyphs">frequency (Hz)</text>
<text x="78.80" y="374.50" font-size="17.60" textLength="20.73" lengthAdjust="spacingAndGlyphs">1e</text>
<rect x="102.20" y="367.93" width="10.70" height="1.35" fill="#000"/>
<text x="115.63" y="374.50" font-size="17.60" textLength="9.14" lengthAdjust="spacingAndGlyphs">4</text>
<text transform="translate(16.50,103.60) rotate(-90)" x="-1.52" y="0" font-size="17.60" textLength="65.90" lengthAdjust="spacingAndGlyphs">RT (ms)</text>
<text transform="translate(16.50,235.80) rotate(-90)" x="-1.52" y="0" font-size="17.60" textLength="65.90" lengthAdjust="spacingAndGlyphs">RT (ms)</text>
<text transform="translate(25.00,619.30) rotate(-90)" x="-1.30" y="0" font-size="17.60" textLength="106.56" lengthAdjust="spacingAndGlyphs">power (a.u.)</text>
<text x="611.63" y="417.40" font-size="17.60" textLength="38.67" lengthAdjust="spacingAndGlyphs">60%</text>
<text x="611.78" y="443.60" font-size="17.60" textLength="38.52" lengthAdjust="spacingAndGlyphs">80%</text>
<text x="2.08" y="18.40" font-size="30.00" font-weight="bold" textLength="15.14" lengthAdjust="spacingAndGlyphs">a</text>
<text x="8.37" y="367.40" font-size="30.00" font-weight="bold" textLength="19.11" lengthAdjust="spacingAndGlyphs">b</text>
</svg></body></html>
